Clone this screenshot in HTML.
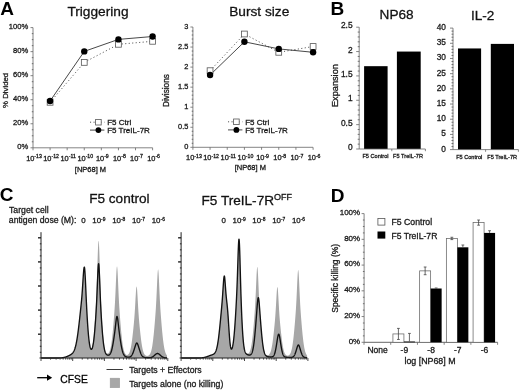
<!DOCTYPE html>
<html><head><meta charset="utf-8"><style>
html,body{margin:0;padding:0;background:#fff;}
svg{display:block;font-family:"Liberation Sans", sans-serif;will-change:transform;}
text{stroke:#222;stroke-width:0.3px;paint-order:stroke;}
</style></head><body>
<svg width="520" height="391" viewBox="0 0 520 391">
<rect width="520" height="391" fill="#fff"/>
<text x="0.30" y="14.90" font-size="19.0" text-anchor="start" font-weight="bold" fill="#000"  style="stroke:none">A</text>
<text x="330.60" y="15.10" font-size="19.0" text-anchor="start" font-weight="bold" fill="#000"  style="stroke:none">B</text>
<text x="-0.20" y="200.90" font-size="19.0" text-anchor="start" font-weight="bold" fill="#000"  style="stroke:none">C</text>
<text x="330.70" y="201.70" font-size="19.0" text-anchor="start" font-weight="bold" fill="#000"  style="stroke:none">D</text>
<line x1="33.00" y1="27.60" x2="33.00" y2="147.80" stroke="#666" stroke-width="0.8" />
<line x1="30.50" y1="27.60" x2="33.00" y2="27.60" stroke="#666" stroke-width="0.8" />
<line x1="31.80" y1="33.61" x2="33.30" y2="33.61" stroke="#555" stroke-width="0.8" />
<line x1="31.80" y1="39.62" x2="33.30" y2="39.62" stroke="#555" stroke-width="0.8" />
<line x1="31.80" y1="45.63" x2="33.30" y2="45.63" stroke="#555" stroke-width="0.8" />
<line x1="30.50" y1="51.64" x2="33.00" y2="51.64" stroke="#666" stroke-width="0.8" />
<line x1="31.80" y1="57.65" x2="33.30" y2="57.65" stroke="#555" stroke-width="0.8" />
<line x1="31.80" y1="63.66" x2="33.30" y2="63.66" stroke="#555" stroke-width="0.8" />
<line x1="31.80" y1="69.67" x2="33.30" y2="69.67" stroke="#555" stroke-width="0.8" />
<line x1="30.50" y1="75.68" x2="33.00" y2="75.68" stroke="#666" stroke-width="0.8" />
<line x1="31.80" y1="81.69" x2="33.30" y2="81.69" stroke="#555" stroke-width="0.8" />
<line x1="31.80" y1="87.70" x2="33.30" y2="87.70" stroke="#555" stroke-width="0.8" />
<line x1="31.80" y1="93.71" x2="33.30" y2="93.71" stroke="#555" stroke-width="0.8" />
<line x1="30.50" y1="99.72" x2="33.00" y2="99.72" stroke="#666" stroke-width="0.8" />
<line x1="31.80" y1="105.73" x2="33.30" y2="105.73" stroke="#555" stroke-width="0.8" />
<line x1="31.80" y1="111.74" x2="33.30" y2="111.74" stroke="#555" stroke-width="0.8" />
<line x1="31.80" y1="117.75" x2="33.30" y2="117.75" stroke="#555" stroke-width="0.8" />
<line x1="30.50" y1="123.76" x2="33.00" y2="123.76" stroke="#666" stroke-width="0.8" />
<line x1="31.80" y1="129.77" x2="33.30" y2="129.77" stroke="#555" stroke-width="0.8" />
<line x1="31.80" y1="135.78" x2="33.30" y2="135.78" stroke="#555" stroke-width="0.8" />
<line x1="31.80" y1="141.79" x2="33.30" y2="141.79" stroke="#555" stroke-width="0.8" />
<line x1="30.50" y1="147.80" x2="33.00" y2="147.80" stroke="#666" stroke-width="0.8" />
<line x1="33.00" y1="147.80" x2="152.60" y2="147.80" stroke="#666" stroke-width="0.8" />
<line x1="33.00" y1="147.80" x2="33.00" y2="150.30" stroke="#666" stroke-width="0.8" />
<text x="34.00" y="160.80" font-size="7.4" text-anchor="middle" fill="#1a1a1a">10<tspan font-size="5.2" dy="-2.7">-13</tspan></text>
<line x1="50.09" y1="147.80" x2="50.09" y2="150.30" stroke="#666" stroke-width="0.8" />
<text x="51.09" y="160.80" font-size="7.4" text-anchor="middle" fill="#1a1a1a">10<tspan font-size="5.2" dy="-2.7">-12</tspan></text>
<line x1="67.17" y1="147.80" x2="67.17" y2="150.30" stroke="#666" stroke-width="0.8" />
<text x="68.17" y="160.80" font-size="7.4" text-anchor="middle" fill="#1a1a1a">10<tspan font-size="5.2" dy="-2.7">-11</tspan></text>
<line x1="84.26" y1="147.80" x2="84.26" y2="150.30" stroke="#666" stroke-width="0.8" />
<text x="85.26" y="160.80" font-size="7.4" text-anchor="middle" fill="#1a1a1a">10<tspan font-size="5.2" dy="-2.7">-10</tspan></text>
<line x1="101.34" y1="147.80" x2="101.34" y2="150.30" stroke="#666" stroke-width="0.8" />
<text x="102.34" y="160.80" font-size="7.4" text-anchor="middle" fill="#1a1a1a">10<tspan font-size="5.2" dy="-2.7">-9</tspan></text>
<line x1="118.43" y1="147.80" x2="118.43" y2="150.30" stroke="#666" stroke-width="0.8" />
<text x="119.43" y="160.80" font-size="7.4" text-anchor="middle" fill="#1a1a1a">10<tspan font-size="5.2" dy="-2.7">-8</tspan></text>
<line x1="135.51" y1="147.80" x2="135.51" y2="150.30" stroke="#666" stroke-width="0.8" />
<text x="136.51" y="160.80" font-size="7.4" text-anchor="middle" fill="#1a1a1a">10<tspan font-size="5.2" dy="-2.7">-7</tspan></text>
<line x1="152.60" y1="147.80" x2="152.60" y2="150.30" stroke="#666" stroke-width="0.8" />
<text x="153.60" y="160.80" font-size="7.4" text-anchor="middle" fill="#1a1a1a">10<tspan font-size="5.2" dy="-2.7">-6</tspan></text>
<text x="28.30" y="29.00" font-size="7.6" text-anchor="end" font-weight="normal" fill="#1a1a1a" >100%</text>
<text x="28.30" y="53.04" font-size="7.6" text-anchor="end" font-weight="normal" fill="#1a1a1a" >80%</text>
<text x="28.30" y="77.08" font-size="7.6" text-anchor="end" font-weight="normal" fill="#1a1a1a" >60%</text>
<text x="28.30" y="101.12" font-size="7.6" text-anchor="end" font-weight="normal" fill="#1a1a1a" >40%</text>
<text x="28.30" y="125.16" font-size="7.6" text-anchor="end" font-weight="normal" fill="#1a1a1a" >20%</text>
<text x="28.30" y="149.20" font-size="7.6" text-anchor="end" font-weight="normal" fill="#1a1a1a" >0%</text>
<text x="67.40" y="16.00" font-size="13.7" text-anchor="start" font-weight="normal" fill="#111" >Triggering</text>
<text x="0" y="0" font-size="7.8" text-anchor="middle" fill="#1a1a1a" transform="translate(7.8,90.4) rotate(-90)">% Divided</text>
<text x="90.50" y="171.60" font-size="7.5" text-anchor="middle" font-weight="normal" fill="#1a1a1a" >[NP68] M</text>
<polyline points="50.09,102.30 84.26,62.40 118.43,44.30 152.60,41.30" fill="none" stroke="#555" stroke-width="1.0" stroke-dasharray="1.1,2.4"/>
<polyline points="50.09,101.00 84.26,51.40 118.43,39.40 152.60,36.50" fill="none" stroke="#333" stroke-width="0.9"/>
<rect x="47.19" y="99.40" width="5.80" height="5.80" fill="#fff" stroke="#555" stroke-width="0.8"/>
<rect x="81.36" y="59.50" width="5.80" height="5.80" fill="#fff" stroke="#555" stroke-width="0.8"/>
<rect x="115.53" y="41.40" width="5.80" height="5.80" fill="#fff" stroke="#555" stroke-width="0.8"/>
<rect x="149.70" y="38.40" width="5.80" height="5.80" fill="#fff" stroke="#555" stroke-width="0.8"/>
<circle cx="50.09" cy="101.00" r="3.2" fill="#000" stroke="none" stroke-width="0"/>
<circle cx="84.26" cy="51.40" r="3.2" fill="#000" stroke="none" stroke-width="0"/>
<circle cx="118.43" cy="39.40" r="3.2" fill="#000" stroke="none" stroke-width="0"/>
<circle cx="152.60" cy="36.50" r="3.2" fill="#000" stroke="none" stroke-width="0"/>
<line x1="90.00" y1="122.20" x2="104.40" y2="122.20" stroke="#555" stroke-width="1.0" stroke-dasharray="1.1,2.4"/>
<rect x="95.60" y="119.40" width="5.60" height="5.60" fill="#fff" stroke="#555" stroke-width="0.8"/>
<line x1="90.00" y1="130.10" x2="104.40" y2="130.10" stroke="#333" stroke-width="0.9" />
<circle cx="98.40" cy="130.10" r="2.9" fill="#000" stroke="none" stroke-width="0"/>
<text x="107.20" y="125.00" font-size="8.0" text-anchor="start" font-weight="normal" fill="#1a1a1a" >F5 Ctrl</text>
<text x="107.20" y="133.00" font-size="8.0" text-anchor="start" font-weight="normal" fill="#1a1a1a" >F5 TreIL-7R</text>
<line x1="192.90" y1="27.00" x2="192.90" y2="147.30" stroke="#666" stroke-width="0.8" />
<line x1="190.40" y1="27.00" x2="192.90" y2="27.00" stroke="#666" stroke-width="0.8" />
<line x1="191.70" y1="31.01" x2="193.20" y2="31.01" stroke="#555" stroke-width="0.8" />
<line x1="191.70" y1="35.02" x2="193.20" y2="35.02" stroke="#555" stroke-width="0.8" />
<line x1="191.70" y1="39.03" x2="193.20" y2="39.03" stroke="#555" stroke-width="0.8" />
<line x1="191.70" y1="43.04" x2="193.20" y2="43.04" stroke="#555" stroke-width="0.8" />
<line x1="190.40" y1="47.05" x2="192.90" y2="47.05" stroke="#666" stroke-width="0.8" />
<line x1="191.70" y1="51.06" x2="193.20" y2="51.06" stroke="#555" stroke-width="0.8" />
<line x1="191.70" y1="55.07" x2="193.20" y2="55.07" stroke="#555" stroke-width="0.8" />
<line x1="191.70" y1="59.08" x2="193.20" y2="59.08" stroke="#555" stroke-width="0.8" />
<line x1="191.70" y1="63.09" x2="193.20" y2="63.09" stroke="#555" stroke-width="0.8" />
<line x1="190.40" y1="67.10" x2="192.90" y2="67.10" stroke="#666" stroke-width="0.8" />
<line x1="191.70" y1="71.11" x2="193.20" y2="71.11" stroke="#555" stroke-width="0.8" />
<line x1="191.70" y1="75.12" x2="193.20" y2="75.12" stroke="#555" stroke-width="0.8" />
<line x1="191.70" y1="79.13" x2="193.20" y2="79.13" stroke="#555" stroke-width="0.8" />
<line x1="191.70" y1="83.14" x2="193.20" y2="83.14" stroke="#555" stroke-width="0.8" />
<line x1="190.40" y1="87.15" x2="192.90" y2="87.15" stroke="#666" stroke-width="0.8" />
<line x1="191.70" y1="91.16" x2="193.20" y2="91.16" stroke="#555" stroke-width="0.8" />
<line x1="191.70" y1="95.17" x2="193.20" y2="95.17" stroke="#555" stroke-width="0.8" />
<line x1="191.70" y1="99.18" x2="193.20" y2="99.18" stroke="#555" stroke-width="0.8" />
<line x1="191.70" y1="103.19" x2="193.20" y2="103.19" stroke="#555" stroke-width="0.8" />
<line x1="190.40" y1="107.20" x2="192.90" y2="107.20" stroke="#666" stroke-width="0.8" />
<line x1="191.70" y1="111.21" x2="193.20" y2="111.21" stroke="#555" stroke-width="0.8" />
<line x1="191.70" y1="115.22" x2="193.20" y2="115.22" stroke="#555" stroke-width="0.8" />
<line x1="191.70" y1="119.23" x2="193.20" y2="119.23" stroke="#555" stroke-width="0.8" />
<line x1="191.70" y1="123.24" x2="193.20" y2="123.24" stroke="#555" stroke-width="0.8" />
<line x1="190.40" y1="127.25" x2="192.90" y2="127.25" stroke="#666" stroke-width="0.8" />
<line x1="191.70" y1="131.26" x2="193.20" y2="131.26" stroke="#555" stroke-width="0.8" />
<line x1="191.70" y1="135.27" x2="193.20" y2="135.27" stroke="#555" stroke-width="0.8" />
<line x1="191.70" y1="139.28" x2="193.20" y2="139.28" stroke="#555" stroke-width="0.8" />
<line x1="191.70" y1="143.29" x2="193.20" y2="143.29" stroke="#555" stroke-width="0.8" />
<line x1="190.40" y1="147.30" x2="192.90" y2="147.30" stroke="#666" stroke-width="0.8" />
<line x1="192.90" y1="147.30" x2="313.00" y2="147.30" stroke="#666" stroke-width="0.8" />
<line x1="192.90" y1="147.30" x2="192.90" y2="149.80" stroke="#666" stroke-width="0.8" />
<text x="193.90" y="160.40" font-size="7.4" text-anchor="middle" fill="#1a1a1a">10<tspan font-size="5.2" dy="-2.7">-13</tspan></text>
<line x1="210.07" y1="147.30" x2="210.07" y2="149.80" stroke="#666" stroke-width="0.8" />
<text x="211.07" y="160.40" font-size="7.4" text-anchor="middle" fill="#1a1a1a">10<tspan font-size="5.2" dy="-2.7">-12</tspan></text>
<line x1="227.24" y1="147.30" x2="227.24" y2="149.80" stroke="#666" stroke-width="0.8" />
<text x="228.24" y="160.40" font-size="7.4" text-anchor="middle" fill="#1a1a1a">10<tspan font-size="5.2" dy="-2.7">-11</tspan></text>
<line x1="244.41" y1="147.30" x2="244.41" y2="149.80" stroke="#666" stroke-width="0.8" />
<text x="245.41" y="160.40" font-size="7.4" text-anchor="middle" fill="#1a1a1a">10<tspan font-size="5.2" dy="-2.7">-10</tspan></text>
<line x1="261.59" y1="147.30" x2="261.59" y2="149.80" stroke="#666" stroke-width="0.8" />
<text x="262.59" y="160.40" font-size="7.4" text-anchor="middle" fill="#1a1a1a">10<tspan font-size="5.2" dy="-2.7">-9</tspan></text>
<line x1="278.76" y1="147.30" x2="278.76" y2="149.80" stroke="#666" stroke-width="0.8" />
<text x="279.76" y="160.40" font-size="7.4" text-anchor="middle" fill="#1a1a1a">10<tspan font-size="5.2" dy="-2.7">-8</tspan></text>
<line x1="295.93" y1="147.30" x2="295.93" y2="149.80" stroke="#666" stroke-width="0.8" />
<text x="296.93" y="160.40" font-size="7.4" text-anchor="middle" fill="#1a1a1a">10<tspan font-size="5.2" dy="-2.7">-7</tspan></text>
<line x1="313.10" y1="147.30" x2="313.10" y2="149.80" stroke="#666" stroke-width="0.8" />
<text x="314.10" y="160.40" font-size="7.4" text-anchor="middle" fill="#1a1a1a">10<tspan font-size="5.2" dy="-2.7">-6</tspan></text>
<text x="188.40" y="28.70" font-size="7.4" text-anchor="end" font-weight="normal" fill="#1a1a1a" >3</text>
<text x="188.40" y="48.75" font-size="7.4" text-anchor="end" font-weight="normal" fill="#1a1a1a" >2.5</text>
<text x="188.40" y="68.80" font-size="7.4" text-anchor="end" font-weight="normal" fill="#1a1a1a" >2</text>
<text x="188.40" y="88.85" font-size="7.4" text-anchor="end" font-weight="normal" fill="#1a1a1a" >1.5</text>
<text x="188.40" y="108.90" font-size="7.4" text-anchor="end" font-weight="normal" fill="#1a1a1a" >1</text>
<text x="188.40" y="128.95" font-size="7.4" text-anchor="end" font-weight="normal" fill="#1a1a1a" >0.5</text>
<text x="188.40" y="149.00" font-size="7.4" text-anchor="end" font-weight="normal" fill="#1a1a1a" >0</text>
<text x="229.20" y="16.20" font-size="13.7" text-anchor="start" font-weight="normal" fill="#111" >Burst size</text>
<text x="0" y="0" font-size="8.2" text-anchor="middle" fill="#1a1a1a" transform="translate(169.2,90.6) rotate(-90)">Divisions</text>
<text x="250.30" y="170.30" font-size="7.5" text-anchor="middle" font-weight="normal" fill="#1a1a1a" >[NP68] M</text>
<polyline points="210.07,70.70 244.41,34.00 278.76,52.30 313.10,46.50" fill="none" stroke="#555" stroke-width="1.0" stroke-dasharray="1.1,2.4"/>
<polyline points="210.07,75.00 244.41,41.80 278.76,48.90 313.10,52.30" fill="none" stroke="#333" stroke-width="0.9"/>
<rect x="207.17" y="67.80" width="5.80" height="5.80" fill="#fff" stroke="#555" stroke-width="0.8"/>
<rect x="241.51" y="31.10" width="5.80" height="5.80" fill="#fff" stroke="#555" stroke-width="0.8"/>
<rect x="275.86" y="49.40" width="5.80" height="5.80" fill="#fff" stroke="#555" stroke-width="0.8"/>
<rect x="310.20" y="43.60" width="5.80" height="5.80" fill="#fff" stroke="#555" stroke-width="0.8"/>
<circle cx="210.07" cy="75.00" r="3.2" fill="#000" stroke="none" stroke-width="0"/>
<circle cx="244.41" cy="41.80" r="3.2" fill="#000" stroke="none" stroke-width="0"/>
<circle cx="278.76" cy="48.90" r="3.2" fill="#000" stroke="none" stroke-width="0"/>
<circle cx="313.10" cy="52.30" r="3.2" fill="#000" stroke="none" stroke-width="0"/>
<line x1="228.00" y1="121.80" x2="242.40" y2="121.80" stroke="#555" stroke-width="1.0" stroke-dasharray="1.1,2.4"/>
<rect x="233.60" y="119.00" width="5.60" height="5.60" fill="#fff" stroke="#555" stroke-width="0.8"/>
<line x1="228.00" y1="129.90" x2="242.40" y2="129.90" stroke="#333" stroke-width="0.9" />
<circle cx="236.40" cy="129.90" r="2.9" fill="#000" stroke="none" stroke-width="0"/>
<text x="245.20" y="124.60" font-size="8.0" text-anchor="start" font-weight="normal" fill="#1a1a1a" >F5 Ctrl</text>
<text x="245.20" y="132.80" font-size="8.0" text-anchor="start" font-weight="normal" fill="#1a1a1a" >F5 TreIL-7R</text>
<line x1="359.20" y1="27.20" x2="359.20" y2="149.00" stroke="#666" stroke-width="0.8" />
<line x1="356.20" y1="27.20" x2="359.20" y2="27.20" stroke="#666" stroke-width="0.8" />
<line x1="357.70" y1="32.07" x2="359.50" y2="32.07" stroke="#555" stroke-width="0.8" />
<line x1="357.70" y1="36.94" x2="359.50" y2="36.94" stroke="#555" stroke-width="0.8" />
<line x1="357.70" y1="41.82" x2="359.50" y2="41.82" stroke="#555" stroke-width="0.8" />
<line x1="357.70" y1="46.69" x2="359.50" y2="46.69" stroke="#555" stroke-width="0.8" />
<line x1="356.20" y1="51.56" x2="359.20" y2="51.56" stroke="#666" stroke-width="0.8" />
<line x1="357.70" y1="56.43" x2="359.50" y2="56.43" stroke="#555" stroke-width="0.8" />
<line x1="357.70" y1="61.30" x2="359.50" y2="61.30" stroke="#555" stroke-width="0.8" />
<line x1="357.70" y1="66.18" x2="359.50" y2="66.18" stroke="#555" stroke-width="0.8" />
<line x1="357.70" y1="71.05" x2="359.50" y2="71.05" stroke="#555" stroke-width="0.8" />
<line x1="356.20" y1="75.92" x2="359.20" y2="75.92" stroke="#666" stroke-width="0.8" />
<line x1="357.70" y1="80.79" x2="359.50" y2="80.79" stroke="#555" stroke-width="0.8" />
<line x1="357.70" y1="85.66" x2="359.50" y2="85.66" stroke="#555" stroke-width="0.8" />
<line x1="357.70" y1="90.54" x2="359.50" y2="90.54" stroke="#555" stroke-width="0.8" />
<line x1="357.70" y1="95.41" x2="359.50" y2="95.41" stroke="#555" stroke-width="0.8" />
<line x1="356.20" y1="100.28" x2="359.20" y2="100.28" stroke="#666" stroke-width="0.8" />
<line x1="357.70" y1="105.15" x2="359.50" y2="105.15" stroke="#555" stroke-width="0.8" />
<line x1="357.70" y1="110.02" x2="359.50" y2="110.02" stroke="#555" stroke-width="0.8" />
<line x1="357.70" y1="114.90" x2="359.50" y2="114.90" stroke="#555" stroke-width="0.8" />
<line x1="357.70" y1="119.77" x2="359.50" y2="119.77" stroke="#555" stroke-width="0.8" />
<line x1="356.20" y1="124.64" x2="359.20" y2="124.64" stroke="#666" stroke-width="0.8" />
<line x1="357.70" y1="129.51" x2="359.50" y2="129.51" stroke="#555" stroke-width="0.8" />
<line x1="357.70" y1="134.38" x2="359.50" y2="134.38" stroke="#555" stroke-width="0.8" />
<line x1="357.70" y1="139.26" x2="359.50" y2="139.26" stroke="#555" stroke-width="0.8" />
<line x1="357.70" y1="144.13" x2="359.50" y2="144.13" stroke="#555" stroke-width="0.8" />
<line x1="356.20" y1="149.00" x2="359.20" y2="149.00" stroke="#666" stroke-width="0.8" />
<text x="352.60" y="28.40" font-size="8.4" text-anchor="end" font-weight="normal" fill="#1a1a1a" >2.5</text>
<text x="352.60" y="52.76" font-size="8.4" text-anchor="end" font-weight="normal" fill="#1a1a1a" >2</text>
<text x="352.60" y="77.12" font-size="8.4" text-anchor="end" font-weight="normal" fill="#1a1a1a" >1.5</text>
<text x="352.60" y="101.48" font-size="8.4" text-anchor="end" font-weight="normal" fill="#1a1a1a" >1</text>
<text x="352.60" y="125.84" font-size="8.4" text-anchor="end" font-weight="normal" fill="#1a1a1a" >0.5</text>
<text x="352.60" y="150.20" font-size="8.4" text-anchor="end" font-weight="normal" fill="#1a1a1a" >0</text>
<rect x="364.10" y="66.18" width="23.50" height="82.82" fill="#000" stroke="none" stroke-width="0"/>
<rect x="396.90" y="51.56" width="23.80" height="97.44" fill="#000" stroke="none" stroke-width="0"/>
<line x1="359.20" y1="149.00" x2="425.40" y2="149.00" stroke="#666" stroke-width="0.8" />
<line x1="391.80" y1="149.00" x2="391.80" y2="151.20" stroke="#666" stroke-width="0.8" />
<line x1="425.40" y1="149.00" x2="425.40" y2="151.20" stroke="#666" stroke-width="0.8" />
<text x="375.50" y="157.80" font-size="5.6" text-anchor="middle" font-weight="normal" fill="#1a1a1a" >F5 Control</text>
<text x="408.00" y="157.80" font-size="5.6" text-anchor="middle" font-weight="normal" fill="#1a1a1a" >F5 TreIL-7R</text>
<text x="379.60" y="19.00" font-size="13.6" text-anchor="start" font-weight="normal" fill="#111" >NP68</text>
<text x="0" y="0" font-size="9.2" text-anchor="middle" fill="#1a1a1a" transform="translate(338.0,85.6) rotate(-90)">Expansion</text>
<line x1="453.00" y1="28.10" x2="453.00" y2="149.60" stroke="#666" stroke-width="0.8" />
<line x1="450.00" y1="28.10" x2="453.00" y2="28.10" stroke="#666" stroke-width="0.8" />
<line x1="451.50" y1="31.14" x2="453.30" y2="31.14" stroke="#555" stroke-width="0.8" />
<line x1="451.50" y1="34.18" x2="453.30" y2="34.18" stroke="#555" stroke-width="0.8" />
<line x1="451.50" y1="37.21" x2="453.30" y2="37.21" stroke="#555" stroke-width="0.8" />
<line x1="451.50" y1="40.25" x2="453.30" y2="40.25" stroke="#555" stroke-width="0.8" />
<line x1="450.00" y1="43.29" x2="453.00" y2="43.29" stroke="#666" stroke-width="0.8" />
<line x1="451.50" y1="46.33" x2="453.30" y2="46.33" stroke="#555" stroke-width="0.8" />
<line x1="451.50" y1="49.36" x2="453.30" y2="49.36" stroke="#555" stroke-width="0.8" />
<line x1="451.50" y1="52.40" x2="453.30" y2="52.40" stroke="#555" stroke-width="0.8" />
<line x1="451.50" y1="55.44" x2="453.30" y2="55.44" stroke="#555" stroke-width="0.8" />
<line x1="450.00" y1="58.48" x2="453.00" y2="58.48" stroke="#666" stroke-width="0.8" />
<line x1="451.50" y1="61.51" x2="453.30" y2="61.51" stroke="#555" stroke-width="0.8" />
<line x1="451.50" y1="64.55" x2="453.30" y2="64.55" stroke="#555" stroke-width="0.8" />
<line x1="451.50" y1="67.59" x2="453.30" y2="67.59" stroke="#555" stroke-width="0.8" />
<line x1="451.50" y1="70.62" x2="453.30" y2="70.62" stroke="#555" stroke-width="0.8" />
<line x1="450.00" y1="73.66" x2="453.00" y2="73.66" stroke="#666" stroke-width="0.8" />
<line x1="451.50" y1="76.70" x2="453.30" y2="76.70" stroke="#555" stroke-width="0.8" />
<line x1="451.50" y1="79.74" x2="453.30" y2="79.74" stroke="#555" stroke-width="0.8" />
<line x1="451.50" y1="82.77" x2="453.30" y2="82.77" stroke="#555" stroke-width="0.8" />
<line x1="451.50" y1="85.81" x2="453.30" y2="85.81" stroke="#555" stroke-width="0.8" />
<line x1="450.00" y1="88.85" x2="453.00" y2="88.85" stroke="#666" stroke-width="0.8" />
<line x1="451.50" y1="91.89" x2="453.30" y2="91.89" stroke="#555" stroke-width="0.8" />
<line x1="451.50" y1="94.92" x2="453.30" y2="94.92" stroke="#555" stroke-width="0.8" />
<line x1="451.50" y1="97.96" x2="453.30" y2="97.96" stroke="#555" stroke-width="0.8" />
<line x1="451.50" y1="101.00" x2="453.30" y2="101.00" stroke="#555" stroke-width="0.8" />
<line x1="450.00" y1="104.04" x2="453.00" y2="104.04" stroke="#666" stroke-width="0.8" />
<line x1="451.50" y1="107.07" x2="453.30" y2="107.07" stroke="#555" stroke-width="0.8" />
<line x1="451.50" y1="110.11" x2="453.30" y2="110.11" stroke="#555" stroke-width="0.8" />
<line x1="451.50" y1="113.15" x2="453.30" y2="113.15" stroke="#555" stroke-width="0.8" />
<line x1="451.50" y1="116.19" x2="453.30" y2="116.19" stroke="#555" stroke-width="0.8" />
<line x1="450.00" y1="119.22" x2="453.00" y2="119.22" stroke="#666" stroke-width="0.8" />
<line x1="451.50" y1="122.26" x2="453.30" y2="122.26" stroke="#555" stroke-width="0.8" />
<line x1="451.50" y1="125.30" x2="453.30" y2="125.30" stroke="#555" stroke-width="0.8" />
<line x1="451.50" y1="128.34" x2="453.30" y2="128.34" stroke="#555" stroke-width="0.8" />
<line x1="451.50" y1="131.38" x2="453.30" y2="131.38" stroke="#555" stroke-width="0.8" />
<line x1="450.00" y1="134.41" x2="453.00" y2="134.41" stroke="#666" stroke-width="0.8" />
<line x1="451.50" y1="137.45" x2="453.30" y2="137.45" stroke="#555" stroke-width="0.8" />
<line x1="451.50" y1="140.49" x2="453.30" y2="140.49" stroke="#555" stroke-width="0.8" />
<line x1="451.50" y1="143.53" x2="453.30" y2="143.53" stroke="#555" stroke-width="0.8" />
<line x1="451.50" y1="146.56" x2="453.30" y2="146.56" stroke="#555" stroke-width="0.8" />
<line x1="450.00" y1="149.60" x2="453.00" y2="149.60" stroke="#666" stroke-width="0.8" />
<text x="445.90" y="30.10" font-size="8.3" text-anchor="end" font-weight="normal" fill="#1a1a1a" >40</text>
<text x="445.90" y="45.29" font-size="8.3" text-anchor="end" font-weight="normal" fill="#1a1a1a" >35</text>
<text x="445.90" y="60.48" font-size="8.3" text-anchor="end" font-weight="normal" fill="#1a1a1a" >30</text>
<text x="445.90" y="75.66" font-size="8.3" text-anchor="end" font-weight="normal" fill="#1a1a1a" >25</text>
<text x="445.90" y="90.85" font-size="8.3" text-anchor="end" font-weight="normal" fill="#1a1a1a" >20</text>
<text x="445.90" y="106.04" font-size="8.3" text-anchor="end" font-weight="normal" fill="#1a1a1a" >15</text>
<text x="445.90" y="121.22" font-size="8.3" text-anchor="end" font-weight="normal" fill="#1a1a1a" >10</text>
<text x="445.90" y="136.41" font-size="8.3" text-anchor="end" font-weight="normal" fill="#1a1a1a" >5</text>
<text x="445.90" y="151.60" font-size="8.3" text-anchor="end" font-weight="normal" fill="#1a1a1a" >0</text>
<rect x="458.00" y="48.45" width="23.10" height="101.15" fill="#000" stroke="none" stroke-width="0"/>
<rect x="490.80" y="43.89" width="23.20" height="105.70" fill="#000" stroke="none" stroke-width="0"/>
<line x1="453.00" y1="149.60" x2="518.40" y2="149.60" stroke="#666" stroke-width="0.8" />
<line x1="485.60" y1="149.60" x2="485.60" y2="151.80" stroke="#666" stroke-width="0.8" />
<line x1="518.40" y1="149.60" x2="518.40" y2="151.80" stroke="#666" stroke-width="0.8" />
<text x="469.20" y="159.00" font-size="5.6" text-anchor="middle" font-weight="normal" fill="#1a1a1a" >F5 Control</text>
<text x="502.20" y="159.00" font-size="5.6" text-anchor="middle" font-weight="normal" fill="#1a1a1a" >F5 TreIL-7R</text>
<text x="471.00" y="20.00" font-size="13.6" text-anchor="start" font-weight="normal" fill="#111" >IL-2</text>
<text x="9.00" y="213.40" font-size="8.7" text-anchor="start" font-weight="normal" fill="#1a1a1a" >Target cell</text>
<text x="8.80" y="223.40" font-size="8.7" text-anchor="start" font-weight="normal" fill="#1a1a1a" >antigen dose (M):</text>
<text x="89.20" y="203.30" font-size="13.6" text-anchor="start" font-weight="normal" fill="#111" >F5 control</text>
<text x="201.5" y="204.6" font-size="13.6" fill="#111">F5 TreIL-7R<tspan font-size="9" dy="-4.4">OFF</tspan></text>
<text x="83.40" y="223.40" font-size="7.9" text-anchor="middle" font-weight="normal" fill="#1a1a1a" >0</text>
<text x="98.90" y="223.4" font-size="7.9" text-anchor="middle" fill="#1a1a1a">10<tspan font-size="4.9" dy="-2.9">-9</tspan></text>
<text x="118.70" y="223.4" font-size="7.9" text-anchor="middle" fill="#1a1a1a">10<tspan font-size="4.9" dy="-2.9">-8</tspan></text>
<text x="138.50" y="223.4" font-size="7.9" text-anchor="middle" fill="#1a1a1a">10<tspan font-size="4.9" dy="-2.9">-7</tspan></text>
<text x="158.30" y="223.4" font-size="7.9" text-anchor="middle" fill="#1a1a1a">10<tspan font-size="4.9" dy="-2.9">-6</tspan></text>
<text x="223.60" y="223.40" font-size="7.9" text-anchor="middle" font-weight="normal" fill="#1a1a1a" >0</text>
<text x="239.10" y="223.4" font-size="7.9" text-anchor="middle" fill="#1a1a1a">10<tspan font-size="4.9" dy="-2.9">-9</tspan></text>
<text x="258.90" y="223.4" font-size="7.9" text-anchor="middle" fill="#1a1a1a">10<tspan font-size="4.9" dy="-2.9">-8</tspan></text>
<text x="278.70" y="223.4" font-size="7.9" text-anchor="middle" fill="#1a1a1a">10<tspan font-size="4.9" dy="-2.9">-7</tspan></text>
<text x="298.50" y="223.4" font-size="7.9" text-anchor="middle" fill="#1a1a1a">10<tspan font-size="4.9" dy="-2.9">-6</tspan></text>
<path d="M41.00,358.00 L41.14,358.00 L41.28,358.00 L41.42,358.00 L41.56,358.00 L41.70,358.00 L41.84,358.00 L41.98,358.00 L42.12,358.00 L42.26,358.00 L42.40,358.00 L42.54,358.00 L42.68,358.00 L42.82,358.00 L42.96,358.00 L43.10,358.00 L43.24,358.00 L43.38,358.00 L43.52,358.00 L43.66,358.00 L43.80,358.00 L43.94,358.00 L44.08,358.00 L44.22,358.00 L44.36,358.00 L44.50,358.00 L44.64,358.00 L44.78,358.00 L44.92,358.00 L45.06,358.00 L45.20,358.00 L45.34,358.00 L45.48,358.00 L45.63,358.00 L45.77,358.00 L45.91,358.00 L46.05,358.00 L46.19,358.00 L46.33,358.00 L46.47,358.00 L46.61,358.00 L46.75,358.00 L46.89,358.00 L47.03,358.00 L47.17,358.00 L47.31,358.00 L47.45,358.00 L47.59,358.00 L47.73,358.00 L47.87,358.00 L48.01,358.00 L48.15,358.00 L48.29,358.00 L48.43,358.00 L48.57,358.00 L48.71,358.00 L48.85,358.00 L48.99,358.00 L49.13,358.00 L49.27,358.00 L49.41,358.00 L49.55,358.00 L49.69,358.00 L49.83,358.00 L49.97,358.00 L50.11,358.00 L50.25,358.00 L50.39,358.00 L50.53,358.00 L50.67,358.00 L50.81,358.00 L50.95,358.00 L51.09,358.00 L51.23,358.00 L51.37,358.00 L51.51,358.00 L51.65,358.00 L51.79,358.00 L51.93,358.00 L52.07,358.00 L52.21,358.00 L52.35,358.00 L52.49,358.00 L52.63,358.00 L52.77,358.00 L52.91,358.00 L53.05,358.00 L53.19,358.00 L53.33,358.00 L53.47,358.00 L53.61,358.00 L53.75,358.00 L53.89,358.00 L54.03,358.00 L54.17,358.00 L54.31,358.00 L54.45,358.00 L54.60,358.00 L54.74,358.00 L54.88,358.00 L55.02,358.00 L55.16,358.00 L55.30,358.00 L55.44,358.00 L55.58,358.00 L55.72,358.00 L55.86,358.00 L56.00,358.00 L56.14,357.99 L56.28,357.99 L56.42,357.99 L56.56,357.99 L56.70,357.99 L56.84,357.99 L56.98,357.99 L57.12,357.99 L57.26,357.99 L57.40,357.99 L57.54,357.98 L57.68,357.98 L57.82,357.98 L57.96,357.98 L58.10,357.98 L58.24,357.98 L58.38,357.97 L58.52,357.97 L58.66,357.97 L58.80,357.96 L58.94,357.96 L59.08,357.96 L59.22,357.95 L59.36,357.95 L59.50,357.94 L59.64,357.94 L59.78,357.93 L59.92,357.93 L60.06,357.92 L60.20,357.91 L60.34,357.91 L60.48,357.90 L60.62,357.89 L60.76,357.88 L60.90,357.87 L61.04,357.86 L61.18,357.85 L61.32,357.84 L61.46,357.83 L61.60,357.82 L61.74,357.80 L61.88,357.79 L62.02,357.77 L62.16,357.76 L62.30,357.74 L62.44,357.72 L62.58,357.70 L62.72,357.68 L62.86,357.66 L63.00,357.64 L63.14,357.61 L63.28,357.59 L63.42,357.56 L63.57,357.54 L63.71,357.51 L63.85,357.48 L63.99,357.45 L64.13,357.42 L64.27,357.38 L64.41,357.35 L64.55,357.32 L64.69,357.28 L64.83,357.24 L64.97,357.20 L65.11,357.16 L65.25,357.12 L65.39,357.08 L65.53,357.03 L65.67,356.99 L65.81,356.94 L65.95,356.89 L66.09,356.84 L66.23,356.79 L66.37,356.74 L66.51,356.69 L66.65,356.63 L66.79,356.58 L66.93,356.52 L67.07,356.47 L67.21,356.41 L67.35,356.35 L67.49,356.29 L67.63,356.23 L67.77,356.17 L67.91,356.11 L68.05,356.05 L68.19,355.98 L68.33,355.92 L68.47,355.85 L68.61,355.79 L68.75,355.72 L68.89,355.65 L69.03,355.59 L69.17,355.52 L69.31,355.45 L69.45,355.38 L69.59,355.31 L69.73,355.23 L69.87,355.16 L70.01,355.08 L70.15,355.00 L70.29,354.93 L70.43,354.84 L70.57,354.76 L70.71,354.68 L70.85,354.59 L70.99,354.50 L71.13,354.40 L71.27,354.30 L71.41,354.20 L71.55,354.09 L71.69,353.98 L71.83,353.87 L71.97,353.74 L72.11,353.61 L72.25,353.48 L72.39,353.33 L72.54,353.18 L72.68,353.02 L72.82,352.85 L72.96,352.67 L73.10,352.48 L73.24,352.28 L73.38,352.06 L73.52,351.83 L73.66,351.59 L73.80,351.34 L73.94,351.06 L74.08,350.77 L74.22,350.47 L74.36,350.14 L74.50,349.80 L74.64,349.43 L74.78,349.04 L74.92,348.64 L75.06,348.21 L75.20,347.75 L75.34,347.27 L75.48,346.77 L75.62,346.24 L75.76,345.68 L75.90,345.10 L76.04,344.49 L76.18,343.85 L76.32,343.18 L76.46,342.48 L76.60,341.75 L76.74,340.99 L76.88,340.20 L77.02,339.39 L77.16,338.54 L77.30,337.66 L77.44,336.75 L77.58,335.81 L77.72,334.85 L77.86,333.85 L78.00,332.83 L78.14,331.78 L78.28,330.71 L78.42,329.61 L78.56,328.49 L78.70,327.34 L78.84,326.18 L78.98,325.00 L79.12,323.79 L79.26,322.58 L79.40,321.35 L79.54,320.11 L79.68,318.85 L79.82,317.59 L79.96,316.33 L80.10,315.05 L80.24,313.77 L80.38,312.49 L80.52,311.19 L80.66,309.89 L80.80,308.58 L80.94,307.24 L81.08,305.89 L81.22,304.51 L81.36,303.09 L81.51,301.62 L81.65,300.09 L81.79,298.49 L81.93,296.82 L82.07,295.06 L82.21,293.21 L82.35,291.28 L82.49,289.26 L82.63,287.16 L82.77,285.01 L82.91,282.83 L83.05,280.65 L83.19,278.52 L83.33,276.47 L83.47,274.56 L83.61,272.84 L83.75,271.35 L83.89,270.14 L84.03,269.25 L84.17,268.71 L84.31,268.53 L84.45,268.78 L84.59,269.50 L84.73,270.68 L84.87,272.28 L85.01,274.26 L85.15,276.56 L85.29,279.14 L85.43,281.92 L85.57,284.86 L85.71,287.91 L85.85,291.00 L85.99,294.10 L86.13,297.18 L86.27,300.21 L86.41,303.16 L86.55,306.02 L86.69,308.78 L86.83,311.43 L86.97,313.98 L87.11,316.42 L87.25,318.75 L87.39,320.99 L87.53,323.12 L87.67,325.16 L87.81,327.11 L87.95,328.96 L88.09,330.72 L88.23,332.39 L88.37,333.98 L88.51,335.47 L88.65,336.88 L88.79,338.20 L88.93,339.43 L89.07,340.58 L89.21,341.63 L89.35,342.61 L89.49,343.50 L89.63,344.31 L89.77,345.05 L89.91,345.70 L90.05,346.28 L90.19,346.78 L90.33,347.22 L90.47,347.58 L90.62,347.88 L90.76,348.10 L90.90,348.27 L91.04,348.36 L91.18,348.40 L91.32,348.37 L91.46,348.27 L91.60,348.11 L91.74,347.89 L91.88,347.59 L92.02,347.24 L92.16,346.81 L92.30,346.31 L92.44,345.74 L92.58,345.09 L92.72,344.36 L92.86,343.55 L93.00,342.66 L93.14,341.69 L93.28,340.63 L93.42,339.48 L93.56,338.23 L93.70,336.90 L93.84,335.47 L93.98,333.95 L94.12,332.34 L94.26,330.64 L94.40,328.85 L94.54,326.96 L94.68,325.00 L94.82,322.94 L94.96,320.81 L95.10,318.60 L95.24,316.32 L95.38,313.96 L95.52,311.52 L95.66,309.00 L95.80,306.39 L95.94,303.68 L96.08,300.85 L96.22,297.88 L96.36,294.76 L96.50,291.46 L96.64,287.96 L96.78,284.25 L96.92,280.32 L97.06,276.20 L97.20,271.90 L97.34,267.50 L97.48,263.05 L97.62,258.68 L97.76,254.49 L97.90,250.62 L98.04,247.22 L98.18,244.41 L98.32,242.32 L98.46,241.05 L98.60,240.64 L98.74,241.13 L98.88,242.51 L99.02,244.71 L99.16,247.63 L99.30,251.16 L99.44,255.16 L99.59,259.48 L99.73,264.00 L99.87,268.58 L100.01,273.13 L100.15,277.56 L100.29,281.83 L100.43,285.89 L100.57,289.74 L100.71,293.38 L100.85,296.82 L100.99,300.08 L101.13,303.17 L101.27,306.12 L101.41,308.94 L101.55,311.65 L101.69,314.26 L101.83,316.78 L101.97,319.21 L102.11,321.55 L102.25,323.81 L102.39,325.98 L102.53,328.05 L102.67,330.03 L102.81,331.92 L102.95,333.71 L103.09,335.41 L103.23,337.01 L103.37,338.51 L103.51,339.91 L103.65,341.22 L103.79,342.44 L103.93,343.57 L104.07,344.61 L104.21,345.57 L104.35,346.45 L104.49,347.26 L104.63,348.00 L104.77,348.67 L104.91,349.27 L105.05,349.82 L105.19,350.32 L105.33,350.77 L105.47,351.16 L105.61,351.52 L105.75,351.84 L105.89,352.12 L106.03,352.37 L106.17,352.59 L106.31,352.77 L106.45,352.94 L106.59,353.08 L106.73,353.19 L106.87,353.29 L107.01,353.37 L107.15,353.42 L107.29,353.46 L107.43,353.49 L107.57,353.49 L107.71,353.48 L107.85,353.45 L107.99,353.40 L108.13,353.34 L108.27,353.25 L108.41,353.15 L108.56,353.02 L108.70,352.88 L108.84,352.71 L108.98,352.52 L109.12,352.30 L109.26,352.05 L109.40,351.78 L109.54,351.47 L109.68,351.13 L109.82,350.76 L109.96,350.35 L110.10,349.90 L110.24,349.40 L110.38,348.87 L110.52,348.29 L110.66,347.66 L110.80,346.98 L110.94,346.25 L111.08,345.47 L111.22,344.64 L111.36,343.75 L111.50,342.80 L111.64,341.80 L111.78,340.73 L111.92,339.61 L112.06,338.43 L112.20,337.20 L112.34,335.91 L112.48,334.56 L112.62,333.17 L112.76,331.72 L112.90,330.22 L113.04,328.68 L113.18,327.09 L113.32,325.47 L113.46,323.81 L113.60,322.11 L113.74,320.38 L113.88,318.60 L114.02,316.79 L114.16,314.93 L114.30,313.01 L114.44,311.02 L114.58,308.94 L114.72,306.75 L114.86,304.44 L115.00,301.99 L115.14,299.37 L115.28,296.59 L115.42,293.64 L115.56,290.54 L115.70,287.33 L115.84,284.06 L115.98,280.81 L116.12,277.65 L116.26,274.69 L116.40,272.04 L116.54,269.80 L116.68,268.08 L116.82,266.94 L116.96,266.44 L117.10,266.60 L117.24,267.43 L117.38,268.87 L117.53,270.87 L117.67,273.33 L117.81,276.15 L117.95,279.23 L118.09,282.45 L118.23,285.73 L118.37,288.98 L118.51,292.15 L118.65,295.18 L118.79,298.06 L118.93,300.77 L119.07,303.31 L119.21,305.70 L119.35,307.96 L119.49,310.10 L119.63,312.14 L119.77,314.10 L119.91,316.00 L120.05,317.85 L120.19,319.65 L120.33,321.42 L120.47,323.15 L120.61,324.84 L120.75,326.49 L120.89,328.11 L121.03,329.69 L121.17,331.22 L121.31,332.71 L121.45,334.15 L121.59,335.54 L121.73,336.87 L121.87,338.15 L122.01,339.38 L122.15,340.55 L122.29,341.66 L122.43,342.71 L122.57,343.71 L122.71,344.65 L122.85,345.53 L122.99,346.36 L123.13,347.14 L123.27,347.87 L123.41,348.54 L123.55,349.17 L123.69,349.76 L123.83,350.30 L123.97,350.80 L124.11,351.26 L124.25,351.68 L124.39,352.06 L124.53,352.42 L124.67,352.74 L124.81,353.03 L124.95,353.30 L125.09,353.54 L125.23,353.76 L125.37,353.95 L125.51,354.12 L125.65,354.28 L125.79,354.41 L125.93,354.53 L126.07,354.63 L126.21,354.71 L126.35,354.79 L126.49,354.84 L126.64,354.89 L126.78,354.92 L126.92,354.93 L127.06,354.94 L127.20,354.93 L127.34,354.91 L127.48,354.87 L127.62,354.83 L127.76,354.76 L127.90,354.69 L128.04,354.59 L128.18,354.48 L128.32,354.36 L128.46,354.22 L128.60,354.05 L128.74,353.87 L128.88,353.66 L129.02,353.43 L129.16,353.18 L129.30,352.90 L129.44,352.60 L129.58,352.26 L129.72,351.89 L129.86,351.49 L130.00,351.06 L130.14,350.59 L130.28,350.09 L130.42,349.54 L130.56,348.96 L130.70,348.33 L130.84,347.67 L130.98,346.95 L131.12,346.20 L131.26,345.40 L131.40,344.55 L131.54,343.66 L131.68,342.73 L131.82,341.75 L131.96,340.73 L132.10,339.66 L132.24,338.56 L132.38,337.41 L132.52,336.23 L132.66,335.02 L132.80,333.77 L132.94,332.49 L133.08,331.18 L133.22,329.84 L133.36,328.48 L133.50,327.09 L133.64,325.66 L133.78,324.19 L133.92,322.68 L134.06,321.11 L134.20,319.47 L134.34,317.75 L134.48,315.92 L134.62,313.98 L134.76,311.91 L134.90,309.71 L135.04,307.39 L135.18,304.95 L135.32,302.43 L135.46,299.87 L135.61,297.33 L135.75,294.88 L135.89,292.60 L136.03,290.57 L136.17,288.88 L136.31,287.59 L136.45,286.78 L136.59,286.47 L136.73,286.68 L136.87,287.40 L137.01,288.60 L137.15,290.22 L137.29,292.19 L137.43,294.43 L137.57,296.86 L137.71,299.39 L137.85,301.95 L137.99,304.49 L138.13,306.95 L138.27,309.30 L138.41,311.53 L138.55,313.62 L138.69,315.59 L138.83,317.44 L138.97,319.19 L139.11,320.85 L139.25,322.44 L139.39,323.96 L139.53,325.44 L139.67,326.88 L139.81,328.29 L139.95,329.66 L140.09,331.01 L140.23,332.33 L140.37,333.62 L140.51,334.88 L140.65,336.11 L140.79,337.30 L140.93,338.46 L141.07,339.58 L141.21,340.66 L141.35,341.70 L141.49,342.70 L141.63,343.65 L141.77,344.56 L141.91,345.42 L142.05,346.24 L142.19,347.01 L142.33,347.74 L142.47,348.43 L142.61,349.07 L142.75,349.68 L142.89,350.24 L143.03,350.77 L143.17,351.26 L143.31,351.71 L143.45,352.13 L143.59,352.52 L143.73,352.87 L143.87,353.20 L144.01,353.50 L144.15,353.78 L144.29,354.03 L144.43,354.26 L144.58,354.47 L144.72,354.66 L144.86,354.83 L145.00,354.98 L145.14,355.12 L145.28,355.25 L145.42,355.36 L145.56,355.45 L145.70,355.54 L145.84,355.62 L145.98,355.68 L146.12,355.74 L146.26,355.79 L146.40,355.83 L146.54,355.86 L146.68,355.88 L146.82,355.90 L146.96,355.91 L147.10,355.91 L147.24,355.91 L147.38,355.90 L147.52,355.89 L147.66,355.86 L147.80,355.83 L147.94,355.80 L148.08,355.75 L148.22,355.70 L148.36,355.64 L148.50,355.57 L148.64,355.49 L148.78,355.40 L148.92,355.30 L149.06,355.18 L149.20,355.06 L149.34,354.92 L149.48,354.76 L149.62,354.59 L149.76,354.40 L149.90,354.19 L150.04,353.96 L150.18,353.71 L150.32,353.43 L150.46,353.12 L150.60,352.79 L150.74,352.43 L150.88,352.04 L151.02,351.61 L151.16,351.15 L151.30,350.64 L151.44,350.10 L151.58,349.52 L151.72,348.89 L151.86,348.21 L152.00,347.49 L152.14,346.72 L152.28,345.89 L152.42,345.02 L152.56,344.09 L152.70,343.10 L152.84,342.06 L152.98,340.97 L153.12,339.82 L153.26,338.62 L153.40,337.36 L153.55,336.05 L153.69,334.69 L153.83,333.28 L153.97,331.83 L154.11,330.33 L154.25,328.79 L154.39,327.21 L154.53,325.60 L154.67,323.95 L154.81,322.27 L154.95,320.55 L155.09,318.80 L155.23,317.00 L155.37,315.14 L155.51,313.22 L155.65,311.23 L155.79,309.13 L155.93,306.92 L156.07,304.57 L156.21,302.07 L156.35,299.41 L156.49,296.59 L156.63,293.62 L156.77,290.53 L156.91,287.37 L157.05,284.21 L157.19,281.12 L157.33,278.19 L157.47,275.54 L157.61,273.27 L157.75,271.47 L157.89,270.21 L158.03,269.57 L158.17,269.57 L158.31,270.22 L158.45,271.47 L158.59,273.28 L158.73,275.55 L158.87,278.21 L159.01,281.13 L159.15,284.22 L159.29,287.39 L159.43,290.55 L159.57,293.64 L159.71,296.61 L159.85,299.43 L159.99,302.09 L160.13,304.59 L160.27,306.94 L160.41,309.16 L160.55,311.26 L160.69,313.26 L160.83,315.18 L160.97,317.03 L161.11,318.84 L161.25,320.59 L161.39,322.31 L161.53,324.00 L161.67,325.65 L161.81,327.27 L161.95,328.85 L162.09,330.39 L162.23,331.90 L162.37,333.36 L162.52,334.77 L162.66,336.13 L162.80,337.45 L162.94,338.71 L163.08,339.92 L163.22,341.07 L163.36,342.18 L163.50,343.22 L163.64,344.21 L163.78,345.15 L163.92,346.03 L164.06,346.87 L164.20,347.65 L164.34,348.38 L164.48,349.07 L164.62,349.71 L164.76,350.30 L164.90,350.86 L165.04,351.37 L165.18,351.85 L165.32,352.29 L165.46,352.70 L165.60,353.08 L165.74,353.42 L165.88,353.74 L166.02,354.04 L166.16,354.31 L166.30,354.56 L166.44,354.79 L166.58,355.00 L166.72,355.19 L166.86,355.37 L167.00,355.54 L167.00,358.00 L41.00,358.00 Z" fill="#a7a7a7" stroke="none"/>
<path d="M41.00,358.00 L41.14,358.00 L41.28,358.00 L41.42,358.00 L41.56,358.00 L41.70,358.00 L41.84,358.00 L41.98,358.00 L42.12,358.00 L42.26,358.00 L42.40,358.00 L42.54,358.00 L42.68,358.00 L42.82,358.00 L42.96,358.00 L43.10,358.00 L43.24,358.00 L43.38,358.00 L43.52,358.00 L43.66,358.00 L43.80,358.00 L43.94,358.00 L44.08,358.00 L44.22,358.00 L44.36,358.00 L44.50,358.00 L44.64,358.00 L44.78,358.00 L44.92,358.00 L45.06,358.00 L45.20,358.00 L45.34,358.00 L45.48,358.00 L45.63,358.00 L45.77,358.00 L45.91,358.00 L46.05,358.00 L46.19,358.00 L46.33,358.00 L46.47,358.00 L46.61,358.00 L46.75,358.00 L46.89,358.00 L47.03,358.00 L47.17,358.00 L47.31,358.00 L47.45,358.00 L47.59,358.00 L47.73,358.00 L47.87,358.00 L48.01,358.00 L48.15,358.00 L48.29,358.00 L48.43,358.00 L48.57,358.00 L48.71,358.00 L48.85,358.00 L48.99,358.00 L49.13,358.00 L49.27,358.00 L49.41,358.00 L49.55,358.00 L49.69,358.00 L49.83,358.00 L49.97,358.00 L50.11,358.00 L50.25,358.00 L50.39,358.00 L50.53,358.00 L50.67,358.00 L50.81,358.00 L50.95,358.00 L51.09,358.00 L51.23,358.00 L51.37,358.00 L51.51,358.00 L51.65,358.00 L51.79,358.00 L51.93,358.00 L52.07,358.00 L52.21,358.00 L52.35,358.00 L52.49,358.00 L52.63,358.00 L52.77,358.00 L52.91,358.00 L53.05,358.00 L53.19,358.00 L53.33,358.00 L53.47,358.00 L53.61,358.00 L53.75,358.00 L53.89,358.00 L54.03,358.00 L54.17,358.00 L54.31,358.00 L54.45,358.00 L54.60,358.00 L54.74,358.00 L54.88,358.00 L55.02,358.00 L55.16,358.00 L55.30,358.00 L55.44,358.00 L55.58,358.00 L55.72,358.00 L55.86,358.00 L56.00,358.00 L56.14,357.99 L56.28,357.99 L56.42,357.99 L56.56,357.99 L56.70,357.99 L56.84,357.99 L56.98,357.99 L57.12,357.99 L57.26,357.99 L57.40,357.99 L57.54,357.98 L57.68,357.98 L57.82,357.98 L57.96,357.98 L58.10,357.98 L58.24,357.98 L58.38,357.97 L58.52,357.97 L58.66,357.97 L58.80,357.96 L58.94,357.96 L59.08,357.96 L59.22,357.95 L59.36,357.95 L59.50,357.94 L59.64,357.94 L59.78,357.93 L59.92,357.93 L60.06,357.92 L60.20,357.91 L60.34,357.91 L60.48,357.90 L60.62,357.89 L60.76,357.88 L60.90,357.87 L61.04,357.86 L61.18,357.85 L61.32,357.84 L61.46,357.83 L61.60,357.82 L61.74,357.80 L61.88,357.79 L62.02,357.77 L62.16,357.76 L62.30,357.74 L62.44,357.72 L62.58,357.70 L62.72,357.68 L62.86,357.66 L63.00,357.64 L63.14,357.61 L63.28,357.59 L63.42,357.56 L63.57,357.54 L63.71,357.51 L63.85,357.48 L63.99,357.45 L64.13,357.42 L64.27,357.38 L64.41,357.35 L64.55,357.31 L64.69,357.28 L64.83,357.24 L64.97,357.20 L65.11,357.16 L65.25,357.12 L65.39,357.08 L65.53,357.03 L65.67,356.99 L65.81,356.94 L65.95,356.89 L66.09,356.84 L66.23,356.79 L66.37,356.74 L66.51,356.69 L66.65,356.63 L66.79,356.58 L66.93,356.52 L67.07,356.47 L67.21,356.41 L67.35,356.35 L67.49,356.29 L67.63,356.23 L67.77,356.17 L67.91,356.11 L68.05,356.04 L68.19,355.98 L68.33,355.92 L68.47,355.85 L68.61,355.78 L68.75,355.72 L68.89,355.65 L69.03,355.58 L69.17,355.51 L69.31,355.44 L69.45,355.37 L69.59,355.30 L69.73,355.22 L69.87,355.15 L70.01,355.07 L70.15,354.99 L70.29,354.91 L70.43,354.83 L70.57,354.75 L70.71,354.66 L70.85,354.57 L70.99,354.48 L71.13,354.38 L71.27,354.28 L71.41,354.18 L71.55,354.07 L71.69,353.96 L71.83,353.84 L71.97,353.71 L72.11,353.58 L72.25,353.45 L72.39,353.30 L72.54,353.14 L72.68,352.98 L72.82,352.81 L72.96,352.63 L73.10,352.43 L73.24,352.22 L73.38,352.01 L73.52,351.77 L73.66,351.53 L73.80,351.26 L73.94,350.99 L74.08,350.69 L74.22,350.38 L74.36,350.05 L74.50,349.70 L74.64,349.32 L74.78,348.93 L74.92,348.51 L75.06,348.08 L75.20,347.61 L75.34,347.13 L75.48,346.61 L75.62,346.07 L75.76,345.51 L75.90,344.91 L76.04,344.29 L76.18,343.64 L76.32,342.96 L76.46,342.25 L76.60,341.50 L76.74,340.73 L76.88,339.93 L77.02,339.10 L77.16,338.23 L77.30,337.34 L77.44,336.42 L77.58,335.46 L77.72,334.48 L77.86,333.47 L78.00,332.43 L78.14,331.36 L78.28,330.27 L78.42,329.15 L78.56,328.01 L78.70,326.85 L78.84,325.66 L78.98,324.46 L79.12,323.24 L79.26,322.00 L79.40,320.75 L79.54,319.49 L79.68,318.22 L79.82,316.93 L79.96,315.65 L80.10,314.35 L80.24,313.05 L80.38,311.74 L80.52,310.43 L80.66,309.10 L80.80,307.77 L80.94,306.41 L81.08,305.04 L81.22,303.63 L81.36,302.19 L81.51,300.70 L81.65,299.14 L81.79,297.52 L81.93,295.82 L82.07,294.04 L82.21,292.16 L82.35,290.19 L82.49,288.14 L82.63,286.01 L82.77,283.83 L82.91,281.61 L83.05,279.40 L83.19,277.23 L83.33,275.16 L83.47,273.22 L83.61,271.47 L83.75,269.96 L83.89,268.74 L84.03,267.84 L84.17,267.29 L84.31,267.11 L84.45,267.37 L84.59,268.11 L84.73,269.32 L84.87,270.95 L85.01,272.97 L85.15,275.31 L85.29,277.94 L85.43,280.77 L85.57,283.77 L85.71,286.87 L85.85,290.03 L85.99,293.19 L86.13,296.33 L86.27,299.42 L86.41,302.42 L86.55,305.34 L86.69,308.16 L86.83,310.86 L86.97,313.46 L87.11,315.96 L87.25,318.34 L87.39,320.63 L87.53,322.81 L87.67,324.90 L87.81,326.89 L87.95,328.79 L88.09,330.59 L88.23,332.31 L88.37,333.94 L88.51,335.47 L88.65,336.92 L88.79,338.28 L88.93,339.55 L89.07,340.74 L89.21,341.84 L89.35,342.85 L89.49,343.79 L89.63,344.64 L89.77,345.41 L89.91,346.11 L90.05,346.73 L90.19,347.28 L90.33,347.76 L90.47,348.18 L90.62,348.52 L90.76,348.81 L90.90,349.03 L91.04,349.19 L91.18,349.30 L91.32,349.34 L91.46,349.33 L91.60,349.26 L91.74,349.13 L91.88,348.94 L92.02,348.69 L92.16,348.39 L92.30,348.02 L92.44,347.59 L92.58,347.10 L92.72,346.55 L92.86,345.92 L93.00,345.23 L93.14,344.47 L93.28,343.64 L93.42,342.73 L93.56,341.75 L93.70,340.70 L93.84,339.57 L93.98,338.36 L94.12,337.08 L94.26,335.72 L94.40,334.29 L94.54,332.79 L94.68,331.23 L94.82,329.59 L94.96,327.89 L95.10,326.12 L95.24,324.30 L95.38,322.41 L95.52,320.46 L95.66,318.45 L95.80,316.36 L95.94,314.19 L96.08,311.92 L96.22,309.55 L96.36,307.05 L96.50,304.40 L96.64,301.60 L96.78,298.62 L96.92,295.47 L97.06,292.17 L97.20,288.72 L97.34,285.19 L97.48,281.63 L97.62,278.12 L97.76,274.76 L97.90,271.65 L98.04,268.93 L98.18,266.68 L98.32,265.00 L98.46,263.98 L98.60,263.66 L98.74,264.06 L98.88,265.17 L99.02,266.94 L99.16,269.30 L99.30,272.14 L99.44,275.36 L99.59,278.83 L99.73,282.47 L99.87,286.15 L100.01,289.81 L100.15,293.38 L100.29,296.81 L100.43,300.08 L100.57,303.18 L100.71,306.11 L100.85,308.87 L100.99,311.49 L101.13,313.98 L101.27,316.36 L101.41,318.63 L101.55,320.81 L101.69,322.92 L101.83,324.95 L101.97,326.90 L102.11,328.79 L102.25,330.61 L102.39,332.36 L102.53,334.03 L102.67,335.63 L102.81,337.16 L102.95,338.60 L103.09,339.97 L103.23,341.26 L103.37,342.48 L103.51,343.62 L103.65,344.68 L103.79,345.66 L103.93,346.58 L104.07,347.43 L104.21,348.21 L104.35,348.93 L104.49,349.59 L104.63,350.19 L104.77,350.75 L104.91,351.25 L105.05,351.70 L105.19,352.12 L105.33,352.49 L105.47,352.83 L105.61,353.13 L105.75,353.40 L105.89,353.65 L106.03,353.87 L106.17,354.07 L106.31,354.24 L106.45,354.40 L106.59,354.54 L106.73,354.66 L106.87,354.77 L107.01,354.86 L107.15,354.94 L107.29,355.01 L107.43,355.07 L107.57,355.12 L107.71,355.15 L107.85,355.18 L107.99,355.20 L108.13,355.21 L108.27,355.20 L108.41,355.19 L108.56,355.17 L108.70,355.13 L108.84,355.09 L108.98,355.03 L109.12,354.96 L109.26,354.87 L109.40,354.77 L109.54,354.65 L109.68,354.52 L109.82,354.37 L109.96,354.20 L110.10,354.01 L110.24,353.79 L110.38,353.56 L110.52,353.30 L110.66,353.02 L110.80,352.71 L110.94,352.37 L111.08,352.00 L111.22,351.61 L111.36,351.18 L111.50,350.73 L111.64,350.24 L111.78,349.72 L111.92,349.16 L112.06,348.58 L112.20,347.96 L112.34,347.31 L112.48,346.62 L112.62,345.91 L112.76,345.17 L112.90,344.39 L113.04,343.59 L113.18,342.77 L113.32,341.92 L113.46,341.05 L113.60,340.16 L113.74,339.25 L113.88,338.32 L114.02,337.37 L114.16,336.41 L114.30,335.43 L114.44,334.43 L114.58,333.40 L114.72,332.35 L114.86,331.27 L115.00,330.16 L115.14,329.01 L115.28,327.82 L115.42,326.60 L115.56,325.36 L115.70,324.10 L115.84,322.85 L115.98,321.63 L116.12,320.46 L116.26,319.39 L116.40,318.43 L116.54,317.64 L116.68,317.03 L116.82,316.63 L116.96,316.45 L117.10,316.51 L117.24,316.81 L117.38,317.32 L117.53,318.03 L117.67,318.92 L117.81,319.94 L117.95,321.07 L118.09,322.28 L118.23,323.53 L118.37,324.79 L118.51,326.05 L118.65,327.29 L118.79,328.50 L118.93,329.68 L119.07,330.82 L119.21,331.93 L119.35,333.00 L119.49,334.05 L119.63,335.08 L119.77,336.08 L119.91,337.06 L120.05,338.03 L120.19,338.98 L120.33,339.91 L120.47,340.82 L120.61,341.72 L120.75,342.59 L120.89,343.45 L121.03,344.28 L121.17,345.08 L121.31,345.86 L121.45,346.61 L121.59,347.32 L121.73,348.01 L121.87,348.67 L122.01,349.29 L122.15,349.88 L122.29,350.45 L122.43,350.97 L122.57,351.47 L122.71,351.94 L122.85,352.38 L122.99,352.79 L123.13,353.17 L123.27,353.52 L123.41,353.85 L123.55,354.16 L123.69,354.44 L123.83,354.70 L123.97,354.93 L124.11,355.15 L124.25,355.35 L124.39,355.54 L124.53,355.70 L124.67,355.86 L124.81,356.00 L124.95,356.12 L125.09,356.24 L125.23,356.34 L125.37,356.44 L125.51,356.52 L125.65,356.60 L125.79,356.67 L125.93,356.73 L126.07,356.79 L126.21,356.84 L126.35,356.89 L126.49,356.93 L126.64,356.97 L126.78,357.00 L126.92,357.03 L127.06,357.06 L127.20,357.08 L127.34,357.11 L127.48,357.12 L127.62,357.14 L127.76,357.15 L127.90,357.16 L128.04,357.17 L128.18,357.17 L128.32,357.17 L128.46,357.17 L128.60,357.16 L128.74,357.16 L128.88,357.14 L129.02,357.13 L129.16,357.11 L129.30,357.08 L129.44,357.05 L129.58,357.02 L129.72,356.98 L129.86,356.93 L130.00,356.88 L130.14,356.81 L130.28,356.74 L130.42,356.66 L130.56,356.57 L130.70,356.48 L130.84,356.37 L130.98,356.24 L131.12,356.11 L131.26,355.96 L131.40,355.80 L131.54,355.63 L131.68,355.44 L131.82,355.23 L131.96,355.01 L132.10,354.77 L132.24,354.52 L132.38,354.25 L132.52,353.96 L132.66,353.66 L132.80,353.34 L132.94,353.00 L133.08,352.65 L133.22,352.29 L133.36,351.91 L133.50,351.52 L133.64,351.12 L133.78,350.71 L133.92,350.30 L134.06,349.87 L134.20,349.44 L134.34,349.00 L134.48,348.55 L134.62,348.11 L134.76,347.66 L134.90,347.21 L135.04,346.76 L135.18,346.31 L135.32,345.87 L135.46,345.44 L135.61,345.03 L135.75,344.63 L135.89,344.26 L136.03,343.93 L136.17,343.63 L136.31,343.39 L136.45,343.20 L136.59,343.06 L136.73,343.00 L136.87,343.00 L137.01,343.06 L137.15,343.19 L137.29,343.38 L137.43,343.63 L137.57,343.92 L137.71,344.25 L137.85,344.62 L137.99,345.02 L138.13,345.43 L138.27,345.87 L138.41,346.31 L138.55,346.76 L138.69,347.21 L138.83,347.66 L138.97,348.11 L139.11,348.56 L139.25,349.01 L139.39,349.45 L139.53,349.89 L139.67,350.32 L139.81,350.74 L139.95,351.15 L140.09,351.56 L140.23,351.95 L140.37,352.33 L140.51,352.70 L140.65,353.05 L140.79,353.39 L140.93,353.72 L141.07,354.03 L141.21,354.32 L141.35,354.59 L141.49,354.86 L141.63,355.10 L141.77,355.33 L141.91,355.54 L142.05,355.74 L142.19,355.92 L142.33,356.09 L142.47,356.25 L142.61,356.39 L142.75,356.52 L142.89,356.64 L143.03,356.75 L143.17,356.85 L143.31,356.94 L143.45,357.02 L143.59,357.09 L143.73,357.16 L143.87,357.22 L144.01,357.27 L144.15,357.32 L144.29,357.37 L144.43,357.41 L144.58,357.44 L144.72,357.47 L144.86,357.50 L145.00,357.53 L145.14,357.55 L145.28,357.57 L145.42,357.59 L145.56,357.61 L145.70,357.62 L145.84,357.64 L145.98,357.65 L146.12,357.66 L146.26,357.68 L146.40,357.69 L146.54,357.69 L146.68,357.70 L146.82,357.71 L146.96,357.72 L147.10,357.72 L147.24,357.73 L147.38,357.74 L147.52,357.74 L147.66,357.74 L147.80,357.75 L147.94,357.75 L148.08,357.75 L148.22,357.75 L148.36,357.75 L148.50,357.75 L148.64,357.75 L148.78,357.75 L148.92,357.75 L149.06,357.74 L149.20,357.74 L149.34,357.73 L149.48,357.72 L149.62,357.71 L149.76,357.70 L149.90,357.69 L150.04,357.67 L150.18,357.66 L150.32,357.64 L150.46,357.62 L150.60,357.59 L150.74,357.57 L150.88,357.54 L151.02,357.50 L151.16,357.47 L151.30,357.43 L151.44,357.38 L151.58,357.34 L151.72,357.29 L151.86,357.23 L152.00,357.17 L152.14,357.11 L152.28,357.04 L152.42,356.96 L152.56,356.88 L152.70,356.80 L152.84,356.71 L152.98,356.62 L153.12,356.52 L153.26,356.42 L153.40,356.31 L153.55,356.20 L153.69,356.09 L153.83,355.97 L153.97,355.85 L154.11,355.73 L154.25,355.60 L154.39,355.47 L154.53,355.34 L154.67,355.21 L154.81,355.08 L154.95,354.95 L155.09,354.82 L155.23,354.70 L155.37,354.57 L155.51,354.45 L155.65,354.34 L155.79,354.23 L155.93,354.12 L156.07,354.02 L156.21,353.93 L156.35,353.84 L156.49,353.77 L156.63,353.70 L156.77,353.64 L156.91,353.59 L157.05,353.55 L157.19,353.52 L157.33,353.51 L157.47,353.50 L157.61,353.50 L157.75,353.51 L157.89,353.54 L158.03,353.57 L158.17,353.62 L158.31,353.67 L158.45,353.74 L158.59,353.81 L158.73,353.89 L158.87,353.98 L159.01,354.08 L159.15,354.18 L159.29,354.29 L159.43,354.41 L159.57,354.53 L159.71,354.65 L159.85,354.78 L159.99,354.91 L160.13,355.04 L160.27,355.17 L160.41,355.30 L160.55,355.43 L160.69,355.56 L160.83,355.69 L160.97,355.81 L161.11,355.94 L161.25,356.06 L161.39,356.17 L161.53,356.29 L161.67,356.40 L161.81,356.50 L161.95,356.60 L162.09,356.70 L162.23,356.79 L162.37,356.88 L162.52,356.96 L162.66,357.04 L162.80,357.11 L162.94,357.18 L163.08,357.24 L163.22,357.30 L163.36,357.36 L163.50,357.41 L163.64,357.46 L163.78,357.50 L163.92,357.54 L164.06,357.58 L164.20,357.61 L164.34,357.64 L164.48,357.67 L164.62,357.70 L164.76,357.72 L164.90,357.74 L165.04,357.76 L165.18,357.78 L165.32,357.80 L165.46,357.81 L165.60,357.83 L165.74,357.84 L165.88,357.85 L166.02,357.86 L166.16,357.87 L166.30,357.88 L166.44,357.89 L166.58,357.89 L166.72,357.90 L166.86,357.90 L167.00,357.91" fill="none" stroke="#111" stroke-width="1.35" stroke-linejoin="round"/>
<line x1="41.00" y1="232.20" x2="41.00" y2="358.00" stroke="#222" stroke-width="1.0" />
<line x1="38.00" y1="237.80" x2="41.00" y2="237.80" stroke="#222" stroke-width="1.4" />
<line x1="39.80" y1="243.83" x2="41.30" y2="243.83" stroke="#222" stroke-width="1.0" />
<line x1="39.80" y1="249.85" x2="41.30" y2="249.85" stroke="#222" stroke-width="1.0" />
<line x1="39.80" y1="255.88" x2="41.30" y2="255.88" stroke="#222" stroke-width="1.0" />
<line x1="38.00" y1="261.90" x2="41.00" y2="261.90" stroke="#222" stroke-width="1.4" />
<line x1="39.80" y1="267.93" x2="41.30" y2="267.93" stroke="#222" stroke-width="1.0" />
<line x1="39.80" y1="273.95" x2="41.30" y2="273.95" stroke="#222" stroke-width="1.0" />
<line x1="39.80" y1="279.98" x2="41.30" y2="279.98" stroke="#222" stroke-width="1.0" />
<line x1="38.00" y1="286.00" x2="41.00" y2="286.00" stroke="#222" stroke-width="1.4" />
<line x1="39.80" y1="292.02" x2="41.30" y2="292.02" stroke="#222" stroke-width="1.0" />
<line x1="39.80" y1="298.05" x2="41.30" y2="298.05" stroke="#222" stroke-width="1.0" />
<line x1="39.80" y1="304.07" x2="41.30" y2="304.07" stroke="#222" stroke-width="1.0" />
<line x1="38.00" y1="310.10" x2="41.00" y2="310.10" stroke="#222" stroke-width="1.4" />
<line x1="39.80" y1="316.12" x2="41.30" y2="316.12" stroke="#222" stroke-width="1.0" />
<line x1="39.80" y1="322.15" x2="41.30" y2="322.15" stroke="#222" stroke-width="1.0" />
<line x1="39.80" y1="328.18" x2="41.30" y2="328.18" stroke="#222" stroke-width="1.0" />
<line x1="38.00" y1="334.20" x2="41.00" y2="334.20" stroke="#222" stroke-width="1.4" />
<line x1="39.80" y1="340.23" x2="41.30" y2="340.23" stroke="#222" stroke-width="1.0" />
<line x1="39.80" y1="346.25" x2="41.30" y2="346.25" stroke="#222" stroke-width="1.0" />
<line x1="39.80" y1="352.28" x2="41.30" y2="352.28" stroke="#222" stroke-width="1.0" />
<line x1="39.50" y1="358.00" x2="167.20" y2="358.00" stroke="#222" stroke-width="1.0" />
<line x1="41.00" y1="358.00" x2="41.00" y2="361.00" stroke="#333" stroke-width="0.9" />
<line x1="50.54" y1="358.00" x2="50.54" y2="359.60" stroke="#333" stroke-width="0.9" />
<line x1="56.12" y1="358.00" x2="56.12" y2="359.60" stroke="#333" stroke-width="0.9" />
<line x1="60.09" y1="358.00" x2="60.09" y2="359.60" stroke="#333" stroke-width="0.9" />
<line x1="63.16" y1="358.00" x2="63.16" y2="359.60" stroke="#333" stroke-width="0.9" />
<line x1="65.67" y1="358.00" x2="65.67" y2="359.60" stroke="#333" stroke-width="0.9" />
<line x1="67.79" y1="358.00" x2="67.79" y2="359.60" stroke="#333" stroke-width="0.9" />
<line x1="69.63" y1="358.00" x2="69.63" y2="359.60" stroke="#333" stroke-width="0.9" />
<line x1="71.25" y1="358.00" x2="71.25" y2="359.60" stroke="#333" stroke-width="0.9" />
<line x1="72.70" y1="358.00" x2="72.70" y2="361.00" stroke="#333" stroke-width="0.9" />
<line x1="82.24" y1="358.00" x2="82.24" y2="359.60" stroke="#333" stroke-width="0.9" />
<line x1="87.82" y1="358.00" x2="87.82" y2="359.60" stroke="#333" stroke-width="0.9" />
<line x1="91.79" y1="358.00" x2="91.79" y2="359.60" stroke="#333" stroke-width="0.9" />
<line x1="94.86" y1="358.00" x2="94.86" y2="359.60" stroke="#333" stroke-width="0.9" />
<line x1="97.37" y1="358.00" x2="97.37" y2="359.60" stroke="#333" stroke-width="0.9" />
<line x1="99.49" y1="358.00" x2="99.49" y2="359.60" stroke="#333" stroke-width="0.9" />
<line x1="101.33" y1="358.00" x2="101.33" y2="359.60" stroke="#333" stroke-width="0.9" />
<line x1="102.95" y1="358.00" x2="102.95" y2="359.60" stroke="#333" stroke-width="0.9" />
<line x1="104.40" y1="358.00" x2="104.40" y2="361.00" stroke="#333" stroke-width="0.9" />
<line x1="113.94" y1="358.00" x2="113.94" y2="359.60" stroke="#333" stroke-width="0.9" />
<line x1="119.52" y1="358.00" x2="119.52" y2="359.60" stroke="#333" stroke-width="0.9" />
<line x1="123.49" y1="358.00" x2="123.49" y2="359.60" stroke="#333" stroke-width="0.9" />
<line x1="126.56" y1="358.00" x2="126.56" y2="359.60" stroke="#333" stroke-width="0.9" />
<line x1="129.07" y1="358.00" x2="129.07" y2="359.60" stroke="#333" stroke-width="0.9" />
<line x1="131.19" y1="358.00" x2="131.19" y2="359.60" stroke="#333" stroke-width="0.9" />
<line x1="133.03" y1="358.00" x2="133.03" y2="359.60" stroke="#333" stroke-width="0.9" />
<line x1="134.65" y1="358.00" x2="134.65" y2="359.60" stroke="#333" stroke-width="0.9" />
<line x1="136.10" y1="358.00" x2="136.10" y2="361.00" stroke="#333" stroke-width="0.9" />
<line x1="145.64" y1="358.00" x2="145.64" y2="359.60" stroke="#333" stroke-width="0.9" />
<line x1="151.22" y1="358.00" x2="151.22" y2="359.60" stroke="#333" stroke-width="0.9" />
<line x1="155.19" y1="358.00" x2="155.19" y2="359.60" stroke="#333" stroke-width="0.9" />
<line x1="158.26" y1="358.00" x2="158.26" y2="359.60" stroke="#333" stroke-width="0.9" />
<line x1="160.77" y1="358.00" x2="160.77" y2="359.60" stroke="#333" stroke-width="0.9" />
<line x1="162.89" y1="358.00" x2="162.89" y2="359.60" stroke="#333" stroke-width="0.9" />
<line x1="164.73" y1="358.00" x2="164.73" y2="359.60" stroke="#333" stroke-width="0.9" />
<line x1="166.35" y1="358.00" x2="166.35" y2="359.60" stroke="#333" stroke-width="0.9" />
<line x1="167.80" y1="358.00" x2="167.80" y2="361.00" stroke="#333" stroke-width="0.9" />
<path d="M181.10,358.00 L181.24,358.00 L181.38,358.00 L181.52,358.00 L181.66,358.00 L181.80,358.00 L181.94,358.00 L182.08,358.00 L182.22,358.00 L182.36,358.00 L182.50,358.00 L182.64,358.00 L182.78,358.00 L182.92,358.00 L183.06,358.00 L183.20,358.00 L183.34,358.00 L183.48,358.00 L183.62,358.00 L183.76,358.00 L183.90,358.00 L184.04,358.00 L184.18,358.00 L184.32,358.00 L184.46,358.00 L184.60,358.00 L184.74,358.00 L184.88,358.00 L185.02,358.00 L185.16,358.00 L185.30,358.00 L185.44,358.00 L185.58,358.00 L185.73,358.00 L185.87,358.00 L186.01,358.00 L186.15,358.00 L186.29,358.00 L186.43,358.00 L186.57,358.00 L186.71,358.00 L186.85,358.00 L186.99,358.00 L187.13,358.00 L187.27,358.00 L187.41,358.00 L187.55,358.00 L187.69,358.00 L187.83,358.00 L187.97,358.00 L188.11,358.00 L188.25,358.00 L188.39,358.00 L188.53,358.00 L188.67,358.00 L188.81,358.00 L188.95,358.00 L189.09,358.00 L189.23,358.00 L189.37,358.00 L189.51,358.00 L189.65,358.00 L189.79,358.00 L189.93,358.00 L190.07,358.00 L190.21,358.00 L190.35,358.00 L190.49,358.00 L190.63,358.00 L190.77,358.00 L190.91,358.00 L191.05,358.00 L191.19,358.00 L191.33,358.00 L191.47,358.00 L191.61,358.00 L191.75,358.00 L191.89,358.00 L192.03,358.00 L192.17,358.00 L192.31,358.00 L192.45,358.00 L192.59,358.00 L192.73,358.00 L192.87,358.00 L193.01,358.00 L193.15,358.00 L193.29,358.00 L193.43,358.00 L193.57,358.00 L193.71,358.00 L193.85,358.00 L193.99,358.00 L194.13,358.00 L194.27,358.00 L194.41,358.00 L194.55,358.00 L194.70,358.00 L194.84,358.00 L194.98,358.00 L195.12,358.00 L195.26,358.00 L195.40,358.00 L195.54,358.00 L195.68,358.00 L195.82,358.00 L195.96,358.00 L196.10,358.00 L196.24,358.00 L196.38,357.99 L196.52,357.99 L196.66,357.99 L196.80,357.99 L196.94,357.99 L197.08,357.99 L197.22,357.99 L197.36,357.99 L197.50,357.99 L197.64,357.99 L197.78,357.98 L197.92,357.98 L198.06,357.98 L198.20,357.98 L198.34,357.98 L198.48,357.97 L198.62,357.97 L198.76,357.97 L198.90,357.97 L199.04,357.96 L199.18,357.96 L199.32,357.96 L199.46,357.95 L199.60,357.95 L199.74,357.94 L199.88,357.94 L200.02,357.93 L200.16,357.93 L200.30,357.92 L200.44,357.91 L200.58,357.91 L200.72,357.90 L200.86,357.89 L201.00,357.88 L201.14,357.87 L201.28,357.86 L201.42,357.85 L201.56,357.84 L201.70,357.83 L201.84,357.82 L201.98,357.80 L202.12,357.79 L202.26,357.77 L202.40,357.76 L202.54,357.74 L202.68,357.72 L202.82,357.71 L202.96,357.69 L203.10,357.66 L203.24,357.64 L203.38,357.62 L203.52,357.60 L203.67,357.57 L203.81,357.55 L203.95,357.52 L204.09,357.49 L204.23,357.46 L204.37,357.43 L204.51,357.40 L204.65,357.37 L204.79,357.33 L204.93,357.30 L205.07,357.26 L205.21,357.23 L205.35,357.19 L205.49,357.15 L205.63,357.11 L205.77,357.07 L205.91,357.02 L206.05,356.98 L206.19,356.94 L206.33,356.89 L206.47,356.84 L206.61,356.80 L206.75,356.75 L206.89,356.70 L207.03,356.65 L207.17,356.60 L207.31,356.55 L207.45,356.50 L207.59,356.45 L207.73,356.39 L207.87,356.34 L208.01,356.29 L208.15,356.23 L208.29,356.18 L208.43,356.13 L208.57,356.08 L208.71,356.02 L208.85,355.97 L208.99,355.92 L209.13,355.86 L209.27,355.81 L209.41,355.76 L209.55,355.71 L209.69,355.66 L209.83,355.61 L209.97,355.56 L210.11,355.51 L210.25,355.46 L210.39,355.41 L210.53,355.36 L210.67,355.31 L210.81,355.27 L210.95,355.22 L211.09,355.17 L211.23,355.13 L211.37,355.08 L211.51,355.03 L211.65,354.99 L211.79,354.94 L211.93,354.89 L212.07,354.84 L212.21,354.79 L212.35,354.74 L212.49,354.68 L212.64,354.62 L212.78,354.56 L212.92,354.50 L213.06,354.43 L213.20,354.36 L213.34,354.28 L213.48,354.20 L213.62,354.11 L213.76,354.01 L213.90,353.90 L214.04,353.79 L214.18,353.66 L214.32,353.52 L214.46,353.37 L214.60,353.21 L214.74,353.03 L214.88,352.84 L215.02,352.63 L215.16,352.40 L215.30,352.15 L215.44,351.88 L215.58,351.58 L215.72,351.27 L215.86,350.92 L216.00,350.55 L216.14,350.15 L216.28,349.72 L216.42,349.25 L216.56,348.76 L216.70,348.23 L216.84,347.66 L216.98,347.05 L217.12,346.41 L217.26,345.72 L217.40,344.99 L217.54,344.22 L217.68,343.41 L217.82,342.55 L217.96,341.65 L218.10,340.70 L218.24,339.71 L218.38,338.68 L218.52,337.60 L218.66,336.47 L218.80,335.30 L218.94,334.09 L219.08,332.84 L219.22,331.55 L219.36,330.22 L219.50,328.86 L219.64,327.47 L219.78,326.04 L219.92,324.59 L220.06,323.11 L220.20,321.61 L220.34,320.10 L220.48,318.57 L220.62,317.04 L220.76,315.49 L220.90,313.94 L221.04,312.39 L221.18,310.84 L221.32,309.28 L221.46,307.72 L221.61,306.15 L221.75,304.57 L221.89,302.98 L222.03,301.35 L222.17,299.70 L222.31,298.01 L222.45,296.27 L222.59,294.50 L222.73,292.69 L222.87,290.86 L223.01,289.02 L223.15,287.20 L223.29,285.44 L223.43,283.77 L223.57,282.24 L223.71,280.88 L223.85,279.73 L223.99,278.83 L224.13,278.18 L224.27,277.83 L224.41,277.86 L224.55,278.28 L224.69,279.04 L224.83,280.11 L224.97,281.42 L225.11,282.91 L225.25,284.52 L225.39,286.20 L225.53,287.89 L225.67,289.56 L225.81,291.18 L225.95,292.73 L226.09,294.21 L226.23,295.62 L226.37,296.97 L226.51,298.27 L226.65,299.54 L226.79,300.82 L226.93,302.11 L227.07,303.45 L227.21,304.85 L227.35,306.33 L227.49,307.90 L227.63,309.57 L227.77,311.35 L227.91,313.22 L228.05,315.19 L228.19,317.25 L228.33,319.37 L228.47,321.55 L228.61,323.76 L228.75,325.98 L228.89,328.19 L229.03,330.36 L229.17,332.47 L229.31,334.49 L229.45,336.42 L229.59,338.24 L229.73,339.92 L229.87,341.47 L230.01,342.87 L230.15,344.13 L230.29,345.23 L230.43,346.19 L230.57,347.00 L230.72,347.67 L230.86,348.22 L231.00,348.63 L231.14,348.93 L231.28,349.12 L231.42,349.21 L231.56,349.21 L231.70,349.11 L231.84,348.93 L231.98,348.67 L232.12,348.33 L232.26,347.92 L232.40,347.44 L232.54,346.88 L232.68,346.26 L232.82,345.56 L232.96,344.79 L233.10,343.94 L233.24,343.01 L233.38,342.01 L233.52,340.93 L233.66,339.77 L233.80,338.53 L233.94,337.20 L234.08,335.79 L234.22,334.29 L234.36,332.71 L234.50,331.05 L234.64,329.30 L234.78,327.47 L234.92,325.57 L235.06,323.59 L235.20,321.54 L235.34,319.42 L235.48,317.23 L235.62,314.98 L235.76,312.66 L235.90,310.28 L236.04,307.82 L236.18,305.29 L236.32,302.67 L236.46,299.94 L236.60,297.09 L236.74,294.09 L236.88,290.91 L237.02,287.55 L237.16,283.97 L237.30,280.18 L237.44,276.19 L237.58,272.03 L237.72,267.73 L237.86,263.38 L238.00,259.07 L238.14,254.93 L238.28,251.07 L238.42,247.65 L238.56,244.80 L238.70,242.63 L238.84,241.26 L238.98,240.73 L239.12,241.11 L239.26,242.45 L239.40,244.67 L239.54,247.70 L239.69,251.40 L239.83,255.63 L239.97,260.25 L240.11,265.11 L240.25,270.08 L240.39,275.05 L240.53,279.94 L240.67,284.66 L240.81,289.19 L240.95,293.49 L241.09,297.56 L241.23,301.41 L241.37,305.04 L241.51,308.47 L241.65,311.72 L241.79,314.79 L241.93,317.71 L242.07,320.48 L242.21,323.12 L242.35,325.61 L242.49,327.98 L242.63,330.21 L242.77,332.32 L242.91,334.29 L243.05,336.14 L243.19,337.86 L243.33,339.46 L243.47,340.93 L243.61,342.29 L243.75,343.54 L243.89,344.68 L244.03,345.71 L244.17,346.65 L244.31,347.50 L244.45,348.26 L244.59,348.95 L244.73,349.56 L244.87,350.11 L245.01,350.59 L245.15,351.02 L245.29,351.41 L245.43,351.74 L245.57,352.04 L245.71,352.30 L245.85,352.53 L245.99,352.72 L246.13,352.90 L246.27,353.05 L246.41,353.17 L246.55,353.28 L246.69,353.37 L246.83,353.45 L246.97,353.51 L247.11,353.56 L247.25,353.59 L247.39,353.62 L247.53,353.62 L247.67,353.62 L247.81,353.61 L247.95,353.58 L248.09,353.53 L248.23,353.48 L248.37,353.41 L248.51,353.32 L248.66,353.21 L248.80,353.09 L248.94,352.95 L249.08,352.79 L249.22,352.60 L249.36,352.39 L249.50,352.16 L249.64,351.89 L249.78,351.60 L249.92,351.28 L250.06,350.92 L250.20,350.53 L250.34,350.10 L250.48,349.63 L250.62,349.11 L250.76,348.56 L250.90,347.95 L251.04,347.30 L251.18,346.60 L251.32,345.85 L251.46,345.04 L251.60,344.18 L251.74,343.26 L251.88,342.29 L252.02,341.26 L252.16,340.17 L252.30,339.02 L252.44,337.82 L252.58,336.56 L252.72,335.25 L252.86,333.88 L253.00,332.46 L253.14,331.00 L253.28,329.48 L253.42,327.92 L253.56,326.33 L253.70,324.69 L253.84,323.02 L253.98,321.31 L254.12,319.56 L254.26,317.78 L254.40,315.95 L254.54,314.07 L254.68,312.12 L254.82,310.09 L254.96,307.97 L255.10,305.73 L255.24,303.35 L255.38,300.81 L255.52,298.12 L255.66,295.26 L255.80,292.24 L255.94,289.09 L256.08,285.86 L256.22,282.60 L256.36,279.41 L256.50,276.37 L256.64,273.59 L256.78,271.18 L256.92,269.23 L257.06,267.84 L257.20,267.07 L257.34,266.95 L257.48,267.50 L257.63,268.68 L257.77,270.44 L257.91,272.70 L258.05,275.37 L258.19,278.33 L258.33,281.49 L258.47,284.74 L258.61,287.99 L258.75,291.19 L258.89,294.27 L259.03,297.20 L259.17,299.96 L259.31,302.56 L259.45,305.00 L259.59,307.30 L259.73,309.48 L259.87,311.55 L260.01,313.54 L260.15,315.45 L260.29,317.31 L260.43,319.12 L260.57,320.89 L260.71,322.63 L260.85,324.33 L260.99,325.99 L261.13,327.62 L261.27,329.21 L261.41,330.75 L261.55,332.25 L261.69,333.71 L261.83,335.11 L261.97,336.47 L262.11,337.76 L262.25,339.01 L262.39,340.19 L262.53,341.33 L262.67,342.40 L262.81,343.42 L262.95,344.38 L263.09,345.28 L263.23,346.14 L263.37,346.93 L263.51,347.68 L263.65,348.38 L263.79,349.03 L263.93,349.63 L264.07,350.19 L264.21,350.71 L264.35,351.18 L264.49,351.62 L264.63,352.03 L264.77,352.40 L264.91,352.73 L265.05,353.04 L265.19,353.32 L265.33,353.58 L265.47,353.81 L265.61,354.02 L265.75,354.21 L265.89,354.37 L266.03,354.52 L266.17,354.66 L266.31,354.77 L266.45,354.88 L266.59,354.96 L266.74,355.04 L266.88,355.10 L267.02,355.15 L267.16,355.19 L267.30,355.22 L267.44,355.24 L267.58,355.25 L267.72,355.24 L267.86,355.23 L268.00,355.20 L268.14,355.17 L268.28,355.12 L268.42,355.06 L268.56,354.98 L268.70,354.89 L268.84,354.79 L268.98,354.68 L269.12,354.54 L269.26,354.39 L269.40,354.22 L269.54,354.03 L269.68,353.82 L269.82,353.59 L269.96,353.33 L270.10,353.05 L270.24,352.74 L270.38,352.40 L270.52,352.03 L270.66,351.63 L270.80,351.20 L270.94,350.73 L271.08,350.22 L271.22,349.68 L271.36,349.09 L271.50,348.47 L271.64,347.80 L271.78,347.09 L271.92,346.34 L272.06,345.54 L272.20,344.70 L272.34,343.81 L272.48,342.88 L272.62,341.91 L272.76,340.89 L272.90,339.83 L273.04,338.73 L273.18,337.59 L273.32,336.42 L273.46,335.21 L273.60,333.96 L273.74,332.69 L273.88,331.39 L274.02,330.06 L274.16,328.71 L274.30,327.32 L274.44,325.90 L274.58,324.44 L274.72,322.94 L274.86,321.38 L275.00,319.75 L275.14,318.04 L275.28,316.22 L275.42,314.29 L275.56,312.24 L275.71,310.05 L275.85,307.74 L275.99,305.32 L276.13,302.81 L276.27,300.27 L276.41,297.75 L276.55,295.32 L276.69,293.05 L276.83,291.04 L276.97,289.36 L277.11,288.08 L277.25,287.28 L277.39,286.97 L277.53,287.18 L277.67,287.90 L277.81,289.09 L277.95,290.70 L278.09,292.66 L278.23,294.89 L278.37,297.30 L278.51,299.81 L278.65,302.35 L278.79,304.87 L278.93,307.31 L279.07,309.64 L279.21,311.85 L279.35,313.93 L279.49,315.89 L279.63,317.73 L279.77,319.46 L279.91,321.11 L280.05,322.68 L280.19,324.19 L280.33,325.66 L280.47,327.09 L280.61,328.48 L280.75,329.84 L280.89,331.18 L281.03,332.49 L281.17,333.77 L281.31,335.02 L281.45,336.24 L281.59,337.42 L281.73,338.57 L281.87,339.68 L282.01,340.75 L282.15,341.78 L282.29,342.77 L282.43,343.71 L282.57,344.61 L282.71,345.46 L282.85,346.27 L282.99,347.04 L283.13,347.76 L283.27,348.44 L283.41,349.07 L283.55,349.67 L283.69,350.23 L283.83,350.75 L283.97,351.23 L284.11,351.67 L284.25,352.09 L284.39,352.47 L284.53,352.82 L284.68,353.14 L284.82,353.43 L284.96,353.70 L285.10,353.95 L285.24,354.17 L285.38,354.37 L285.52,354.55 L285.66,354.71 L285.80,354.86 L285.94,354.99 L286.08,355.11 L286.22,355.21 L286.36,355.30 L286.50,355.38 L286.64,355.44 L286.78,355.50 L286.92,355.54 L287.06,355.58 L287.20,355.61 L287.34,355.63 L287.48,355.64 L287.62,355.64 L287.76,355.63 L287.90,355.61 L288.04,355.59 L288.18,355.56 L288.32,355.52 L288.46,355.47 L288.60,355.41 L288.74,355.34 L288.88,355.26 L289.02,355.16 L289.16,355.06 L289.30,354.94 L289.44,354.80 L289.58,354.66 L289.72,354.49 L289.86,354.31 L290.00,354.10 L290.14,353.88 L290.28,353.63 L290.42,353.36 L290.56,353.06 L290.70,352.74 L290.84,352.38 L290.98,351.99 L291.12,351.57 L291.26,351.11 L291.40,350.62 L291.54,350.08 L291.68,349.50 L291.82,348.88 L291.96,348.21 L292.10,347.49 L292.24,346.73 L292.38,345.91 L292.52,345.04 L292.66,344.12 L292.80,343.15 L292.94,342.11 L293.08,341.03 L293.22,339.89 L293.36,338.69 L293.50,337.45 L293.65,336.15 L293.79,334.80 L293.93,333.40 L294.07,331.95 L294.21,330.46 L294.35,328.93 L294.49,327.37 L294.63,325.76 L294.77,324.13 L294.91,322.45 L295.05,320.75 L295.19,319.00 L295.33,317.21 L295.47,315.37 L295.61,313.46 L295.75,311.48 L295.89,309.39 L296.03,307.19 L296.17,304.86 L296.31,302.37 L296.45,299.73 L296.59,296.93 L296.73,293.98 L296.87,290.91 L297.01,287.77 L297.15,284.62 L297.29,281.54 L297.43,278.64 L297.57,276.00 L297.71,273.74 L297.85,271.95 L297.99,270.71 L298.13,270.07 L298.27,270.07 L298.41,270.71 L298.55,271.96 L298.69,273.75 L298.83,276.02 L298.97,278.65 L299.11,281.56 L299.25,284.64 L299.39,287.79 L299.53,290.93 L299.67,294.00 L299.81,296.95 L299.95,299.76 L300.09,302.41 L300.23,304.89 L300.37,307.23 L300.51,309.43 L300.65,311.52 L300.79,313.51 L300.93,315.42 L301.07,317.26 L301.21,319.06 L301.35,320.80 L301.49,322.52 L301.63,324.19 L301.77,325.83 L301.91,327.44 L302.05,329.02 L302.19,330.55 L302.33,332.04 L302.47,333.49 L302.62,334.90 L302.76,336.26 L302.90,337.56 L303.04,338.82 L303.18,340.02 L303.32,341.17 L303.46,342.26 L303.60,343.30 L303.74,344.29 L303.88,345.22 L304.02,346.10 L304.16,346.93 L304.30,347.71 L304.44,348.44 L304.58,349.12 L304.72,349.75 L304.86,350.35 L305.00,350.90 L305.14,351.41 L305.28,351.88 L305.42,352.32 L305.56,352.73 L305.70,353.10 L305.84,353.45 L305.98,353.77 L306.12,354.06 L306.26,354.33 L306.40,354.58 L306.54,354.81 L306.68,355.02 L306.82,355.21 L306.96,355.39 L307.10,355.55 L307.10,358.00 L181.10,358.00 Z" fill="#a7a7a7" stroke="none"/>
<path d="M181.10,358.00 L181.24,358.00 L181.38,358.00 L181.52,358.00 L181.66,358.00 L181.80,358.00 L181.94,358.00 L182.08,358.00 L182.22,358.00 L182.36,358.00 L182.50,358.00 L182.64,358.00 L182.78,358.00 L182.92,358.00 L183.06,358.00 L183.20,358.00 L183.34,358.00 L183.48,358.00 L183.62,358.00 L183.76,358.00 L183.90,358.00 L184.04,358.00 L184.18,358.00 L184.32,358.00 L184.46,358.00 L184.60,358.00 L184.74,358.00 L184.88,358.00 L185.02,358.00 L185.16,358.00 L185.30,358.00 L185.44,358.00 L185.58,358.00 L185.73,358.00 L185.87,358.00 L186.01,358.00 L186.15,358.00 L186.29,358.00 L186.43,358.00 L186.57,358.00 L186.71,358.00 L186.85,358.00 L186.99,358.00 L187.13,358.00 L187.27,358.00 L187.41,358.00 L187.55,358.00 L187.69,358.00 L187.83,358.00 L187.97,358.00 L188.11,358.00 L188.25,358.00 L188.39,358.00 L188.53,358.00 L188.67,358.00 L188.81,358.00 L188.95,358.00 L189.09,358.00 L189.23,358.00 L189.37,358.00 L189.51,358.00 L189.65,358.00 L189.79,358.00 L189.93,358.00 L190.07,358.00 L190.21,358.00 L190.35,358.00 L190.49,358.00 L190.63,358.00 L190.77,358.00 L190.91,358.00 L191.05,358.00 L191.19,358.00 L191.33,358.00 L191.47,358.00 L191.61,358.00 L191.75,358.00 L191.89,358.00 L192.03,358.00 L192.17,358.00 L192.31,358.00 L192.45,358.00 L192.59,358.00 L192.73,358.00 L192.87,358.00 L193.01,358.00 L193.15,358.00 L193.29,358.00 L193.43,358.00 L193.57,358.00 L193.71,358.00 L193.85,358.00 L193.99,358.00 L194.13,358.00 L194.27,358.00 L194.41,358.00 L194.55,358.00 L194.70,358.00 L194.84,358.00 L194.98,358.00 L195.12,358.00 L195.26,358.00 L195.40,358.00 L195.54,358.00 L195.68,358.00 L195.82,358.00 L195.96,358.00 L196.10,358.00 L196.24,358.00 L196.38,357.99 L196.52,357.99 L196.66,357.99 L196.80,357.99 L196.94,357.99 L197.08,357.99 L197.22,357.99 L197.36,357.99 L197.50,357.99 L197.64,357.99 L197.78,357.98 L197.92,357.98 L198.06,357.98 L198.20,357.98 L198.34,357.98 L198.48,357.97 L198.62,357.97 L198.76,357.97 L198.90,357.97 L199.04,357.96 L199.18,357.96 L199.32,357.96 L199.46,357.95 L199.60,357.95 L199.74,357.94 L199.88,357.94 L200.02,357.93 L200.16,357.93 L200.30,357.92 L200.44,357.91 L200.58,357.91 L200.72,357.90 L200.86,357.89 L201.00,357.88 L201.14,357.87 L201.28,357.86 L201.42,357.85 L201.56,357.84 L201.70,357.83 L201.84,357.82 L201.98,357.80 L202.12,357.79 L202.26,357.77 L202.40,357.76 L202.54,357.74 L202.68,357.72 L202.82,357.70 L202.96,357.69 L203.10,357.66 L203.24,357.64 L203.38,357.62 L203.52,357.60 L203.67,357.57 L203.81,357.55 L203.95,357.52 L204.09,357.49 L204.23,357.46 L204.37,357.43 L204.51,357.40 L204.65,357.37 L204.79,357.33 L204.93,357.30 L205.07,357.26 L205.21,357.23 L205.35,357.19 L205.49,357.15 L205.63,357.11 L205.77,357.07 L205.91,357.02 L206.05,356.98 L206.19,356.93 L206.33,356.89 L206.47,356.84 L206.61,356.79 L206.75,356.75 L206.89,356.70 L207.03,356.65 L207.17,356.60 L207.31,356.55 L207.45,356.50 L207.59,356.44 L207.73,356.39 L207.87,356.34 L208.01,356.29 L208.15,356.23 L208.29,356.18 L208.43,356.13 L208.57,356.07 L208.71,356.02 L208.85,355.97 L208.99,355.91 L209.13,355.86 L209.27,355.81 L209.41,355.75 L209.55,355.70 L209.69,355.65 L209.83,355.60 L209.97,355.55 L210.11,355.50 L210.25,355.45 L210.39,355.40 L210.53,355.35 L210.67,355.31 L210.81,355.26 L210.95,355.21 L211.09,355.17 L211.23,355.12 L211.37,355.07 L211.51,355.03 L211.65,354.98 L211.79,354.93 L211.93,354.88 L212.07,354.83 L212.21,354.78 L212.35,354.73 L212.49,354.67 L212.64,354.62 L212.78,354.56 L212.92,354.50 L213.06,354.43 L213.20,354.36 L213.34,354.28 L213.48,354.20 L213.62,354.11 L213.76,354.02 L213.90,353.91 L214.04,353.80 L214.18,353.68 L214.32,353.54 L214.46,353.40 L214.60,353.24 L214.74,353.07 L214.88,352.88 L215.02,352.68 L215.16,352.46 L215.30,352.21 L215.44,351.95 L215.58,351.67 L215.72,351.36 L215.86,351.03 L216.00,350.67 L216.14,350.29 L216.28,349.87 L216.42,349.42 L216.56,348.95 L216.70,348.43 L216.84,347.89 L216.98,347.30 L217.12,346.68 L217.26,346.02 L217.40,345.32 L217.54,344.58 L217.68,343.80 L217.82,342.98 L217.96,342.11 L218.10,341.20 L218.24,340.25 L218.38,339.25 L218.52,338.22 L218.66,337.14 L218.80,336.01 L218.94,334.85 L219.08,333.65 L219.22,332.41 L219.36,331.13 L219.50,329.82 L219.64,328.48 L219.78,327.12 L219.92,325.72 L220.06,324.30 L220.20,322.86 L220.34,321.41 L220.48,319.94 L220.62,318.46 L220.76,316.97 L220.90,315.48 L221.04,313.98 L221.18,312.47 L221.32,310.95 L221.46,309.41 L221.61,307.86 L221.75,306.27 L221.89,304.65 L222.03,302.97 L222.17,301.23 L222.31,299.41 L222.45,297.52 L222.59,295.54 L222.73,293.49 L222.87,291.38 L223.01,289.24 L223.15,287.10 L223.29,285.00 L223.43,283.01 L223.57,281.16 L223.71,279.54 L223.85,278.17 L223.99,277.11 L224.13,276.39 L224.27,276.03 L224.41,276.13 L224.55,276.69 L224.69,277.65 L224.83,278.97 L224.97,280.55 L225.11,282.34 L225.25,284.24 L225.39,286.21 L225.53,288.16 L225.67,290.06 L225.81,291.87 L225.95,293.57 L226.09,295.16 L226.23,296.64 L226.37,298.03 L226.51,299.34 L226.65,300.60 L226.79,301.84 L226.93,303.09 L227.07,304.37 L227.21,305.71 L227.35,307.12 L227.49,308.62 L227.63,310.22 L227.77,311.92 L227.91,313.73 L228.05,315.64 L228.19,317.64 L228.33,319.71 L228.47,321.84 L228.61,324.00 L228.75,326.18 L228.89,328.35 L229.03,330.48 L229.17,332.56 L229.31,334.56 L229.45,336.47 L229.59,338.26 L229.73,339.93 L229.87,341.46 L230.01,342.85 L230.15,344.09 L230.29,345.18 L230.43,346.13 L230.57,346.93 L230.72,347.60 L230.86,348.13 L231.00,348.55 L231.14,348.84 L231.28,349.02 L231.42,349.11 L231.56,349.10 L231.70,348.99 L231.84,348.81 L231.98,348.54 L232.12,348.20 L232.26,347.78 L232.40,347.29 L232.54,346.73 L232.68,346.09 L232.82,345.38 L232.96,344.60 L233.10,343.74 L233.24,342.81 L233.38,341.80 L233.52,340.70 L233.66,339.53 L233.80,338.27 L233.94,336.92 L234.08,335.49 L234.22,333.98 L234.36,332.38 L234.50,330.69 L234.64,328.92 L234.78,327.08 L234.92,325.15 L235.06,323.14 L235.20,321.06 L235.34,318.92 L235.48,316.70 L235.62,314.42 L235.76,312.08 L235.90,309.66 L236.04,307.18 L236.18,304.62 L236.32,301.96 L236.46,299.20 L236.60,296.31 L236.74,293.27 L236.88,290.06 L237.02,286.65 L237.16,283.03 L237.30,279.20 L237.44,275.16 L237.58,270.93 L237.72,266.59 L237.86,262.18 L238.00,257.82 L238.14,253.62 L238.28,249.72 L238.42,246.26 L238.56,243.37 L238.70,241.18 L238.84,239.79 L238.98,239.26 L239.12,239.66 L239.26,241.05 L239.40,243.37 L239.54,246.52 L239.69,250.37 L239.83,254.79 L239.97,259.61 L240.11,264.69 L240.25,269.90 L240.39,275.11 L240.53,280.23 L240.67,285.20 L240.81,289.96 L240.95,294.48 L241.09,298.76 L241.23,302.80 L241.37,306.60 L241.51,310.19 L241.65,313.56 L241.79,316.75 L241.93,319.76 L242.07,322.60 L242.21,325.28 L242.35,327.81 L242.49,330.18 L242.63,332.40 L242.77,334.48 L242.91,336.41 L243.05,338.21 L243.19,339.86 L243.33,341.38 L243.47,342.78 L243.61,344.05 L243.75,345.21 L243.89,346.26 L244.03,347.21 L244.17,348.06 L244.31,348.82 L244.45,349.50 L244.59,350.11 L244.73,350.65 L244.87,351.13 L245.01,351.56 L245.15,351.94 L245.29,352.27 L245.43,352.57 L245.57,352.83 L245.71,353.07 L245.85,353.27 L245.99,353.46 L246.13,353.63 L246.27,353.78 L246.41,353.91 L246.55,354.03 L246.69,354.14 L246.83,354.24 L246.97,354.34 L247.11,354.42 L247.25,354.50 L247.39,354.57 L247.53,354.64 L247.67,354.70 L247.81,354.76 L247.95,354.81 L248.09,354.86 L248.23,354.90 L248.37,354.94 L248.51,354.97 L248.66,355.00 L248.80,355.03 L248.94,355.05 L249.08,355.06 L249.22,355.07 L249.36,355.08 L249.50,355.07 L249.64,355.06 L249.78,355.04 L249.92,355.01 L250.06,354.98 L250.20,354.93 L250.34,354.87 L250.48,354.80 L250.62,354.71 L250.76,354.61 L250.90,354.49 L251.04,354.35 L251.18,354.19 L251.32,354.00 L251.46,353.79 L251.60,353.56 L251.74,353.29 L251.88,352.99 L252.02,352.66 L252.16,352.29 L252.30,351.88 L252.44,351.42 L252.58,350.92 L252.72,350.37 L252.86,349.77 L253.00,349.12 L253.14,348.41 L253.28,347.64 L253.42,346.82 L253.56,345.93 L253.70,344.99 L253.84,343.98 L253.98,342.90 L254.12,341.77 L254.26,340.58 L254.40,339.32 L254.54,338.01 L254.68,336.65 L254.82,335.23 L254.96,333.76 L255.10,332.25 L255.24,330.70 L255.38,329.10 L255.52,327.47 L255.66,325.80 L255.80,324.10 L255.94,322.37 L256.08,320.60 L256.22,318.80 L256.36,316.97 L256.50,315.11 L256.64,313.24 L256.78,311.35 L256.92,309.47 L257.06,307.61 L257.20,305.81 L257.34,304.10 L257.48,302.51 L257.63,301.08 L257.77,299.86 L257.91,298.88 L258.05,298.17 L258.19,297.76 L258.33,297.66 L258.47,297.88 L258.61,298.41 L258.75,299.23 L258.89,300.31 L259.03,301.62 L259.17,303.11 L259.31,304.76 L259.45,306.51 L259.59,308.34 L259.73,310.22 L259.87,312.11 L260.01,314.00 L260.15,315.88 L260.29,317.73 L260.43,319.56 L260.57,321.36 L260.71,323.12 L260.85,324.85 L260.99,326.55 L261.13,328.21 L261.27,329.84 L261.41,331.43 L261.55,332.98 L261.69,334.49 L261.83,335.95 L261.97,337.36 L262.11,338.72 L262.25,340.02 L262.39,341.27 L262.53,342.46 L262.67,343.58 L262.81,344.65 L262.95,345.65 L263.09,346.60 L263.23,347.48 L263.37,348.30 L263.51,349.07 L263.65,349.78 L263.79,350.44 L263.93,351.04 L264.07,351.60 L264.21,352.11 L264.35,352.57 L264.49,353.00 L264.63,353.38 L264.77,353.73 L264.91,354.05 L265.05,354.34 L265.19,354.60 L265.33,354.83 L265.47,355.04 L265.61,355.23 L265.75,355.41 L265.89,355.56 L266.03,355.70 L266.17,355.82 L266.31,355.94 L266.45,356.04 L266.59,356.13 L266.74,356.21 L266.88,356.29 L267.02,356.35 L267.16,356.41 L267.30,356.47 L267.44,356.52 L267.58,356.57 L267.72,356.61 L267.86,356.65 L268.00,356.68 L268.14,356.72 L268.28,356.75 L268.42,356.77 L268.56,356.80 L268.70,356.82 L268.84,356.84 L268.98,356.86 L269.12,356.88 L269.26,356.90 L269.40,356.91 L269.54,356.92 L269.68,356.93 L269.82,356.94 L269.96,356.95 L270.10,356.96 L270.24,356.96 L270.38,356.97 L270.52,356.97 L270.66,356.97 L270.80,356.97 L270.94,356.97 L271.08,356.96 L271.22,356.95 L271.36,356.94 L271.50,356.93 L271.64,356.91 L271.78,356.89 L271.92,356.86 L272.06,356.83 L272.20,356.79 L272.34,356.75 L272.48,356.69 L272.62,356.63 L272.76,356.56 L272.90,356.48 L273.04,356.38 L273.18,356.26 L273.32,356.13 L273.46,355.98 L273.60,355.81 L273.74,355.62 L273.88,355.40 L274.02,355.15 L274.16,354.88 L274.30,354.57 L274.44,354.23 L274.58,353.85 L274.72,353.44 L274.86,352.98 L275.00,352.49 L275.14,351.96 L275.28,351.39 L275.42,350.77 L275.56,350.12 L275.71,349.43 L275.85,348.70 L275.99,347.93 L276.13,347.14 L276.27,346.31 L276.41,345.45 L276.55,344.58 L276.69,343.68 L276.83,342.77 L276.97,341.85 L277.11,340.93 L277.25,340.02 L277.39,339.13 L277.53,338.27 L277.67,337.46 L277.81,336.70 L277.95,336.02 L278.09,335.43 L278.23,334.94 L278.37,334.56 L278.51,334.31 L278.65,334.19 L278.79,334.21 L278.93,334.37 L279.07,334.65 L279.21,335.06 L279.35,335.58 L279.49,336.20 L279.63,336.90 L279.77,337.68 L279.91,338.51 L280.05,339.38 L280.19,340.28 L280.33,341.19 L280.47,342.11 L280.61,343.03 L280.75,343.94 L280.89,344.83 L281.03,345.71 L281.17,346.56 L281.31,347.38 L281.45,348.17 L281.59,348.93 L281.73,349.65 L281.87,350.33 L282.01,350.98 L282.15,351.59 L282.29,352.15 L282.43,352.68 L282.57,353.16 L282.71,353.61 L282.85,354.02 L282.99,354.39 L283.13,354.73 L283.27,355.03 L283.41,355.31 L283.55,355.55 L283.69,355.77 L283.83,355.96 L283.97,356.13 L284.11,356.28 L284.25,356.42 L284.39,356.53 L284.53,356.63 L284.68,356.72 L284.82,356.80 L284.96,356.87 L285.10,356.93 L285.24,356.98 L285.38,357.03 L285.52,357.07 L285.66,357.11 L285.80,357.14 L285.94,357.17 L286.08,357.19 L286.22,357.22 L286.36,357.24 L286.50,357.26 L286.64,357.27 L286.78,357.29 L286.92,357.31 L287.06,357.32 L287.20,357.33 L287.34,357.35 L287.48,357.36 L287.62,357.37 L287.76,357.38 L287.90,357.39 L288.04,357.40 L288.18,357.41 L288.32,357.41 L288.46,357.42 L288.60,357.43 L288.74,357.43 L288.88,357.44 L289.02,357.44 L289.16,357.45 L289.30,357.45 L289.44,357.45 L289.58,357.46 L289.72,357.46 L289.86,357.46 L290.00,357.46 L290.14,357.46 L290.28,357.45 L290.42,357.45 L290.56,357.45 L290.70,357.44 L290.84,357.43 L290.98,357.42 L291.12,357.41 L291.26,357.40 L291.40,357.38 L291.54,357.36 L291.68,357.34 L291.82,357.32 L291.96,357.29 L292.10,357.25 L292.24,357.21 L292.38,357.16 L292.52,357.11 L292.66,357.05 L292.80,356.98 L292.94,356.89 L293.08,356.80 L293.22,356.70 L293.36,356.58 L293.50,356.45 L293.65,356.31 L293.79,356.15 L293.93,355.97 L294.07,355.78 L294.21,355.56 L294.35,355.33 L294.49,355.08 L294.63,354.81 L294.77,354.52 L294.91,354.21 L295.05,353.88 L295.19,353.53 L295.33,353.16 L295.47,352.77 L295.61,352.37 L295.75,351.95 L295.89,351.52 L296.03,351.07 L296.17,350.62 L296.31,350.15 L296.45,349.68 L296.59,349.21 L296.73,348.73 L296.87,348.26 L297.01,347.79 L297.15,347.34 L297.29,346.91 L297.43,346.50 L297.57,346.13 L297.71,345.80 L297.85,345.51 L297.99,345.29 L298.13,345.12 L298.27,345.02 L298.41,344.99 L298.55,345.03 L298.69,345.14 L298.83,345.32 L298.97,345.56 L299.11,345.85 L299.25,346.19 L299.39,346.57 L299.53,346.98 L299.67,347.42 L299.81,347.87 L299.95,348.34 L300.09,348.81 L300.23,349.29 L300.37,349.77 L300.51,350.24 L300.65,350.70 L300.79,351.16 L300.93,351.60 L301.07,352.04 L301.21,352.45 L301.35,352.86 L301.49,353.24 L301.63,353.61 L301.77,353.96 L301.91,354.29 L302.05,354.60 L302.19,354.89 L302.33,355.16 L302.47,355.42 L302.62,355.65 L302.76,355.86 L302.90,356.06 L303.04,356.23 L303.18,356.40 L303.32,356.54 L303.46,356.67 L303.60,356.79 L303.74,356.90 L303.88,356.99 L304.02,357.08 L304.16,357.15 L304.30,357.22 L304.44,357.28 L304.58,357.33 L304.72,357.37 L304.86,357.42 L305.00,357.45 L305.14,357.48 L305.28,357.51 L305.42,357.54 L305.56,357.56 L305.70,357.58 L305.84,357.60 L305.98,357.62 L306.12,357.64 L306.26,357.65 L306.40,357.66 L306.54,357.68 L306.68,357.69 L306.82,357.70 L306.96,357.71 L307.10,357.72" fill="none" stroke="#111" stroke-width="1.35" stroke-linejoin="round"/>
<line x1="181.10" y1="232.20" x2="181.10" y2="358.00" stroke="#222" stroke-width="1.0" />
<line x1="178.10" y1="237.80" x2="181.10" y2="237.80" stroke="#222" stroke-width="1.4" />
<line x1="179.90" y1="243.83" x2="181.40" y2="243.83" stroke="#222" stroke-width="1.0" />
<line x1="179.90" y1="249.85" x2="181.40" y2="249.85" stroke="#222" stroke-width="1.0" />
<line x1="179.90" y1="255.88" x2="181.40" y2="255.88" stroke="#222" stroke-width="1.0" />
<line x1="178.10" y1="261.90" x2="181.10" y2="261.90" stroke="#222" stroke-width="1.4" />
<line x1="179.90" y1="267.93" x2="181.40" y2="267.93" stroke="#222" stroke-width="1.0" />
<line x1="179.90" y1="273.95" x2="181.40" y2="273.95" stroke="#222" stroke-width="1.0" />
<line x1="179.90" y1="279.98" x2="181.40" y2="279.98" stroke="#222" stroke-width="1.0" />
<line x1="178.10" y1="286.00" x2="181.10" y2="286.00" stroke="#222" stroke-width="1.4" />
<line x1="179.90" y1="292.02" x2="181.40" y2="292.02" stroke="#222" stroke-width="1.0" />
<line x1="179.90" y1="298.05" x2="181.40" y2="298.05" stroke="#222" stroke-width="1.0" />
<line x1="179.90" y1="304.07" x2="181.40" y2="304.07" stroke="#222" stroke-width="1.0" />
<line x1="178.10" y1="310.10" x2="181.10" y2="310.10" stroke="#222" stroke-width="1.4" />
<line x1="179.90" y1="316.12" x2="181.40" y2="316.12" stroke="#222" stroke-width="1.0" />
<line x1="179.90" y1="322.15" x2="181.40" y2="322.15" stroke="#222" stroke-width="1.0" />
<line x1="179.90" y1="328.18" x2="181.40" y2="328.18" stroke="#222" stroke-width="1.0" />
<line x1="178.10" y1="334.20" x2="181.10" y2="334.20" stroke="#222" stroke-width="1.4" />
<line x1="179.90" y1="340.23" x2="181.40" y2="340.23" stroke="#222" stroke-width="1.0" />
<line x1="179.90" y1="346.25" x2="181.40" y2="346.25" stroke="#222" stroke-width="1.0" />
<line x1="179.90" y1="352.28" x2="181.40" y2="352.28" stroke="#222" stroke-width="1.0" />
<line x1="179.60" y1="358.00" x2="307.30" y2="358.00" stroke="#222" stroke-width="1.0" />
<line x1="181.10" y1="358.00" x2="181.10" y2="361.00" stroke="#333" stroke-width="0.9" />
<line x1="190.64" y1="358.00" x2="190.64" y2="359.60" stroke="#333" stroke-width="0.9" />
<line x1="196.22" y1="358.00" x2="196.22" y2="359.60" stroke="#333" stroke-width="0.9" />
<line x1="200.19" y1="358.00" x2="200.19" y2="359.60" stroke="#333" stroke-width="0.9" />
<line x1="203.26" y1="358.00" x2="203.26" y2="359.60" stroke="#333" stroke-width="0.9" />
<line x1="205.77" y1="358.00" x2="205.77" y2="359.60" stroke="#333" stroke-width="0.9" />
<line x1="207.89" y1="358.00" x2="207.89" y2="359.60" stroke="#333" stroke-width="0.9" />
<line x1="209.73" y1="358.00" x2="209.73" y2="359.60" stroke="#333" stroke-width="0.9" />
<line x1="211.35" y1="358.00" x2="211.35" y2="359.60" stroke="#333" stroke-width="0.9" />
<line x1="212.80" y1="358.00" x2="212.80" y2="361.00" stroke="#333" stroke-width="0.9" />
<line x1="222.34" y1="358.00" x2="222.34" y2="359.60" stroke="#333" stroke-width="0.9" />
<line x1="227.92" y1="358.00" x2="227.92" y2="359.60" stroke="#333" stroke-width="0.9" />
<line x1="231.89" y1="358.00" x2="231.89" y2="359.60" stroke="#333" stroke-width="0.9" />
<line x1="234.96" y1="358.00" x2="234.96" y2="359.60" stroke="#333" stroke-width="0.9" />
<line x1="237.47" y1="358.00" x2="237.47" y2="359.60" stroke="#333" stroke-width="0.9" />
<line x1="239.59" y1="358.00" x2="239.59" y2="359.60" stroke="#333" stroke-width="0.9" />
<line x1="241.43" y1="358.00" x2="241.43" y2="359.60" stroke="#333" stroke-width="0.9" />
<line x1="243.05" y1="358.00" x2="243.05" y2="359.60" stroke="#333" stroke-width="0.9" />
<line x1="244.50" y1="358.00" x2="244.50" y2="361.00" stroke="#333" stroke-width="0.9" />
<line x1="254.04" y1="358.00" x2="254.04" y2="359.60" stroke="#333" stroke-width="0.9" />
<line x1="259.62" y1="358.00" x2="259.62" y2="359.60" stroke="#333" stroke-width="0.9" />
<line x1="263.59" y1="358.00" x2="263.59" y2="359.60" stroke="#333" stroke-width="0.9" />
<line x1="266.66" y1="358.00" x2="266.66" y2="359.60" stroke="#333" stroke-width="0.9" />
<line x1="269.17" y1="358.00" x2="269.17" y2="359.60" stroke="#333" stroke-width="0.9" />
<line x1="271.29" y1="358.00" x2="271.29" y2="359.60" stroke="#333" stroke-width="0.9" />
<line x1="273.13" y1="358.00" x2="273.13" y2="359.60" stroke="#333" stroke-width="0.9" />
<line x1="274.75" y1="358.00" x2="274.75" y2="359.60" stroke="#333" stroke-width="0.9" />
<line x1="276.20" y1="358.00" x2="276.20" y2="361.00" stroke="#333" stroke-width="0.9" />
<line x1="285.74" y1="358.00" x2="285.74" y2="359.60" stroke="#333" stroke-width="0.9" />
<line x1="291.32" y1="358.00" x2="291.32" y2="359.60" stroke="#333" stroke-width="0.9" />
<line x1="295.29" y1="358.00" x2="295.29" y2="359.60" stroke="#333" stroke-width="0.9" />
<line x1="298.36" y1="358.00" x2="298.36" y2="359.60" stroke="#333" stroke-width="0.9" />
<line x1="300.87" y1="358.00" x2="300.87" y2="359.60" stroke="#333" stroke-width="0.9" />
<line x1="302.99" y1="358.00" x2="302.99" y2="359.60" stroke="#333" stroke-width="0.9" />
<line x1="304.83" y1="358.00" x2="304.83" y2="359.60" stroke="#333" stroke-width="0.9" />
<line x1="306.45" y1="358.00" x2="306.45" y2="359.60" stroke="#333" stroke-width="0.9" />
<line x1="307.90" y1="358.00" x2="307.90" y2="361.00" stroke="#333" stroke-width="0.9" />
<line x1="37.20" y1="377.70" x2="48.50" y2="377.70" stroke="#000" stroke-width="1.3" />
<path d="M47.0,374.6 L52.2,377.7 L47.0,380.8 Z" fill="#000"/>
<text x="60.30" y="383.00" font-size="10.3" text-anchor="start" font-weight="normal" fill="#000" >CFSE</text>
<line x1="106.50" y1="369.50" x2="122.80" y2="369.50" stroke="#222" stroke-width="0.9" />
<text x="129.20" y="373.30" font-size="8.7" text-anchor="start" font-weight="normal" fill="#1a1a1a" >Targets + Effectors</text>
<rect x="110.10" y="378.10" width="9.70" height="9.70" fill="#a7a7a7" stroke="#999" stroke-width="0.4"/>
<text x="129.20" y="386.80" font-size="8.7" text-anchor="start" font-weight="normal" fill="#1a1a1a" >Targets alone (no killing)</text>
<line x1="364.10" y1="213.60" x2="364.10" y2="342.30" stroke="#666" stroke-width="0.8" />
<line x1="361.60" y1="213.60" x2="364.10" y2="213.60" stroke="#666" stroke-width="0.8" />
<line x1="362.90" y1="220.03" x2="364.40" y2="220.03" stroke="#555" stroke-width="0.8" />
<line x1="362.90" y1="226.47" x2="364.40" y2="226.47" stroke="#555" stroke-width="0.8" />
<line x1="362.90" y1="232.91" x2="364.40" y2="232.91" stroke="#555" stroke-width="0.8" />
<line x1="361.60" y1="239.34" x2="364.10" y2="239.34" stroke="#666" stroke-width="0.8" />
<line x1="362.90" y1="245.78" x2="364.40" y2="245.78" stroke="#555" stroke-width="0.8" />
<line x1="362.90" y1="252.21" x2="364.40" y2="252.21" stroke="#555" stroke-width="0.8" />
<line x1="362.90" y1="258.64" x2="364.40" y2="258.64" stroke="#555" stroke-width="0.8" />
<line x1="361.60" y1="265.08" x2="364.10" y2="265.08" stroke="#666" stroke-width="0.8" />
<line x1="362.90" y1="271.51" x2="364.40" y2="271.51" stroke="#555" stroke-width="0.8" />
<line x1="362.90" y1="277.95" x2="364.40" y2="277.95" stroke="#555" stroke-width="0.8" />
<line x1="362.90" y1="284.38" x2="364.40" y2="284.38" stroke="#555" stroke-width="0.8" />
<line x1="361.60" y1="290.82" x2="364.10" y2="290.82" stroke="#666" stroke-width="0.8" />
<line x1="362.90" y1="297.25" x2="364.40" y2="297.25" stroke="#555" stroke-width="0.8" />
<line x1="362.90" y1="303.69" x2="364.40" y2="303.69" stroke="#555" stroke-width="0.8" />
<line x1="362.90" y1="310.12" x2="364.40" y2="310.12" stroke="#555" stroke-width="0.8" />
<line x1="361.60" y1="316.56" x2="364.10" y2="316.56" stroke="#666" stroke-width="0.8" />
<line x1="362.90" y1="323.00" x2="364.40" y2="323.00" stroke="#555" stroke-width="0.8" />
<line x1="362.90" y1="329.43" x2="364.40" y2="329.43" stroke="#555" stroke-width="0.8" />
<line x1="362.90" y1="335.87" x2="364.40" y2="335.87" stroke="#555" stroke-width="0.8" />
<line x1="361.60" y1="342.30" x2="364.10" y2="342.30" stroke="#666" stroke-width="0.8" />
<text x="360.20" y="214.80" font-size="8.0" text-anchor="end" font-weight="normal" fill="#1a1a1a" >100%</text>
<text x="360.20" y="240.54" font-size="8.0" text-anchor="end" font-weight="normal" fill="#1a1a1a" >80%</text>
<text x="360.20" y="266.28" font-size="8.0" text-anchor="end" font-weight="normal" fill="#1a1a1a" >60%</text>
<text x="360.20" y="292.02" font-size="8.0" text-anchor="end" font-weight="normal" fill="#1a1a1a" >40%</text>
<text x="360.20" y="317.76" font-size="8.0" text-anchor="end" font-weight="normal" fill="#1a1a1a" >20%</text>
<text x="360.20" y="343.50" font-size="8.0" text-anchor="end" font-weight="normal" fill="#1a1a1a" >0%</text>
<text x="0" y="0" font-size="8.5" text-anchor="middle" fill="#1a1a1a" transform="translate(338.0,278.3) rotate(-90)">Specific killing (%)</text>
<line x1="364.10" y1="342.30" x2="497.60" y2="342.30" stroke="#555" stroke-width="0.9" />
<line x1="364.00" y1="342.30" x2="364.00" y2="344.80" stroke="#666" stroke-width="0.8" />
<line x1="390.72" y1="342.30" x2="390.72" y2="344.80" stroke="#666" stroke-width="0.8" />
<line x1="417.44" y1="342.30" x2="417.44" y2="344.80" stroke="#666" stroke-width="0.8" />
<line x1="444.16" y1="342.30" x2="444.16" y2="344.80" stroke="#666" stroke-width="0.8" />
<line x1="470.88" y1="342.30" x2="470.88" y2="344.80" stroke="#666" stroke-width="0.8" />
<line x1="497.60" y1="342.30" x2="497.60" y2="344.80" stroke="#666" stroke-width="0.8" />
<rect x="392.92" y="333.93" width="11.00" height="8.37" fill="#fff" stroke="#666" stroke-width="0.75"/>
<rect x="403.92" y="341.53" width="11.00" height="0.77" fill="#000" stroke="none" stroke-width="0"/>
<line x1="398.42" y1="328.40" x2="398.42" y2="339.47" stroke="#444" stroke-width="0.8" />
<line x1="397.02" y1="328.40" x2="399.82" y2="328.40" stroke="#444" stroke-width="0.8" />
<line x1="397.02" y1="339.47" x2="399.82" y2="339.47" stroke="#444" stroke-width="0.8" />
<line x1="409.42" y1="333.42" x2="409.42" y2="341.53" stroke="#444" stroke-width="0.8" />
<line x1="408.02" y1="333.42" x2="410.82" y2="333.42" stroke="#444" stroke-width="0.8" />
<rect x="419.64" y="270.87" width="11.00" height="71.43" fill="#fff" stroke="#666" stroke-width="0.75"/>
<rect x="430.64" y="288.50" width="11.00" height="53.80" fill="#000" stroke="none" stroke-width="0"/>
<line x1="425.14" y1="267.01" x2="425.14" y2="274.73" stroke="#444" stroke-width="0.8" />
<line x1="423.74" y1="267.01" x2="426.54" y2="267.01" stroke="#444" stroke-width="0.8" />
<line x1="423.74" y1="274.73" x2="426.54" y2="274.73" stroke="#444" stroke-width="0.8" />
<line x1="436.14" y1="287.99" x2="436.14" y2="288.50" stroke="#444" stroke-width="0.8" />
<line x1="434.74" y1="287.99" x2="437.54" y2="287.99" stroke="#444" stroke-width="0.8" />
<rect x="446.36" y="238.44" width="11.00" height="103.86" fill="#fff" stroke="#666" stroke-width="0.75"/>
<rect x="457.36" y="247.32" width="11.00" height="94.98" fill="#000" stroke="none" stroke-width="0"/>
<line x1="451.86" y1="237.28" x2="451.86" y2="239.60" stroke="#444" stroke-width="0.8" />
<line x1="450.46" y1="237.28" x2="453.26" y2="237.28" stroke="#444" stroke-width="0.8" />
<line x1="450.46" y1="239.60" x2="453.26" y2="239.60" stroke="#444" stroke-width="0.8" />
<line x1="462.86" y1="245.00" x2="462.86" y2="247.32" stroke="#444" stroke-width="0.8" />
<line x1="461.46" y1="245.00" x2="464.26" y2="245.00" stroke="#444" stroke-width="0.8" />
<rect x="473.08" y="222.61" width="11.00" height="119.69" fill="#fff" stroke="#666" stroke-width="0.75"/>
<rect x="484.08" y="232.91" width="11.00" height="109.40" fill="#000" stroke="none" stroke-width="0"/>
<line x1="478.58" y1="220.03" x2="478.58" y2="225.18" stroke="#444" stroke-width="0.8" />
<line x1="477.18" y1="220.03" x2="479.98" y2="220.03" stroke="#444" stroke-width="0.8" />
<line x1="477.18" y1="225.18" x2="479.98" y2="225.18" stroke="#444" stroke-width="0.8" />
<line x1="489.58" y1="230.72" x2="489.58" y2="232.91" stroke="#444" stroke-width="0.8" />
<line x1="488.18" y1="230.72" x2="490.98" y2="230.72" stroke="#444" stroke-width="0.8" />
<text x="377.56" y="352.60" font-size="8.5" text-anchor="middle" font-weight="normal" fill="#1a1a1a" >None</text>
<text x="404.38" y="352.60" font-size="8.5" text-anchor="middle" font-weight="normal" fill="#1a1a1a" >-9</text>
<text x="431.10" y="352.60" font-size="8.5" text-anchor="middle" font-weight="normal" fill="#1a1a1a" >-8</text>
<text x="457.82" y="352.60" font-size="8.5" text-anchor="middle" font-weight="normal" fill="#1a1a1a" >-7</text>
<text x="484.54" y="352.60" font-size="8.5" text-anchor="middle" font-weight="normal" fill="#1a1a1a" >-6</text>
<text x="430.00" y="364.10" font-size="8.85" text-anchor="middle" font-weight="normal" fill="#1a1a1a" >log [NP68] M</text>
<rect x="377.90" y="218.40" width="7.00" height="6.70" fill="#fff" stroke="#555" stroke-width="0.8"/>
<rect x="377.50" y="231.50" width="7.80" height="7.10" fill="#000" stroke="none" stroke-width="0"/>
<text x="391.50" y="225.10" font-size="8.7" text-anchor="start" font-weight="normal" fill="#1a1a1a" >F5 Control</text>
<text x="391.50" y="238.50" font-size="8.6" text-anchor="start" font-weight="normal" fill="#1a1a1a" >F5 TreIL-7R</text>
</svg>
</body></html>
